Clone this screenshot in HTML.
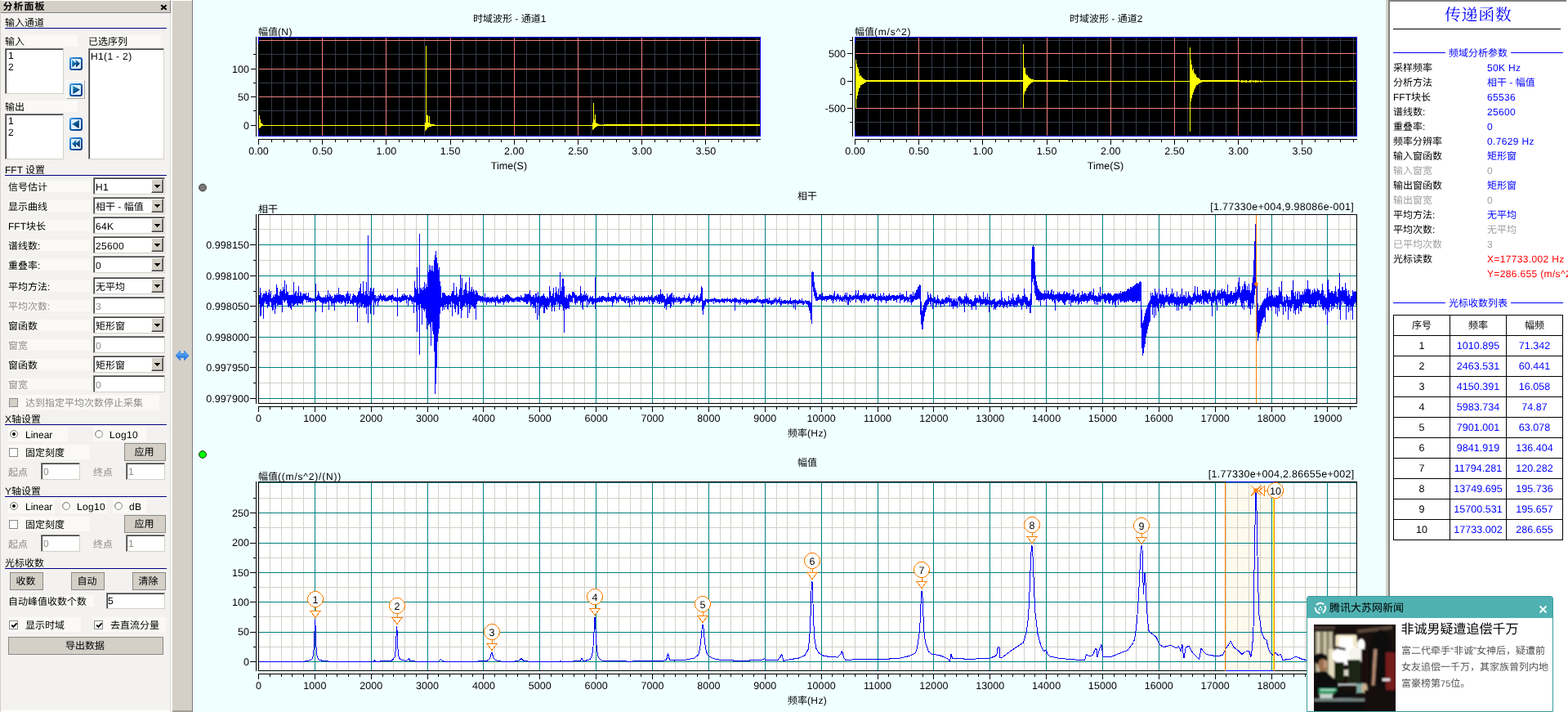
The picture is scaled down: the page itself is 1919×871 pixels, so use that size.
<!DOCTYPE html>
<html lang="zh"><head><meta charset="utf-8"><title>传递函数 - 分析面板</title>
<style>
html,body{margin:0;padding:0}
html{width:1919px;height:871px;overflow:hidden}
body{width:1919px;height:871px;overflow:hidden;position:relative;background:#F0FFFF;font-family:"Liberation Sans","Noto Sans CJK SC",sans-serif;font-size:12px;color:#000;text-rendering:geometricPrecision}
.l{position:absolute;white-space:nowrap;line-height:12px;height:12px;font-size:12px}
.abs{position:absolute}
.ls{letter-spacing:0.35px}
.ls2{letter-spacing:0.8px}
#lp,#rp,#pop{will-change:transform}

#lp{position:absolute;left:0;top:0;width:209px;height:871px;background:#F3F2F0;box-shadow:inset 1px 0 0 #D4D0C8,inset -1px 0 0 #DDDAD3,inset 0 -2px 0 #fff}
#lp div,.abs{position:absolute}
.tbar{background:#D4D0C8;border-right:1px solid #808080;border-bottom:1px solid #808080;border-top:1px solid #fff;box-sizing:border-box}
.uline{background:#000080}
.lbg{background:#FAF9F6}
.sunk{background:#fff;box-sizing:border-box;border:1px solid;border-color:#808080 #D4D0C8 #D4D0C8 #808080;box-shadow:inset 1px 1px 0 #404040}
.drop{background:#D4D0C8;box-sizing:border-box;border:1px solid;border-color:#fff #404040 #404040 #fff;box-shadow:inset -1px -1px 0 #808080}
.drop i{position:absolute;left:3px;top:6px;width:0;height:0;border:3.5px solid transparent;border-top:4px solid #000;border-bottom:0}
.raised{box-sizing:border-box;border:1px solid;border-color:#fff #B0ADA5 #B0ADA5 #fff;background:#F3F2F0}
.btn{background:#D4D0C8;box-sizing:border-box;border:1px solid #8C8A85;text-align:center;white-space:nowrap;padding-right:2px}
.radio{border-radius:50%;background:#fff;box-sizing:border-box;border:1px solid #8A8A8A;box-shadow:inset 0.5px 0.5px 0 #B0B0B0}
.radio i{position:absolute;left:2.3px;top:2.3px;width:4px;height:4px;border-radius:50%;background:#000}
.chk{background:#fff;box-sizing:border-box;border:1px solid #8A8A8A}
.cdis{background:#D4D0C8}
.dis{color:#8F8D88}
.bold{font-weight:bold}

#main{position:absolute;left:0;top:0;width:1919px;height:871px;will-change:transform}
#cv{position:absolute;left:236px;top:0}
#cv text{font-family:"Liberation Sans",sans-serif;font-size:12.5px;fill:#000;text-rendering:geometricPrecision;letter-spacing:0.08px}

#rp{position:absolute;left:1701px;top:0;width:218px;height:871px;background:#fff;overflow:hidden}
#rp div{position:absolute}
.blue{color:#0000FF}
.red{color:#FF0000}
.dis2{color:#A0A0A0}
#tb{position:absolute;left:4px;top:385px;border-collapse:collapse;table-layout:fixed;width:208px}
#tb td{border:1px solid #000;width:68px;height:24px;padding:0;text-align:center;font-size:12.5px;line-height:12px;letter-spacing:0.06px}
#tb tr:first-child td{font-size:12px;letter-spacing:0}

#pop{position:absolute;left:1599px;top:729px;width:302px;height:142px;border-bottom:0;background:#fff;border:1px solid #3C9C9C;border-radius:3px 3px 0 0;box-sizing:border-box;overflow:hidden}
#pop div{position:absolute}
#ptb{left:0;top:0;width:300px;height:26px;background:#4FB1B1}
.pg{color:#555}
</style></head>
<body>
<div id="lp">
<svg width="0" height="0" style="position:absolute"><defs><linearGradient id="ib" x1="0" y1="0" x2="1" y2="1"><stop offset="0" stop-color="#3E9AE6"/><stop offset="0.5" stop-color="#0F5DB0"/><stop offset="1" stop-color="#04347A"/></linearGradient><linearGradient id="ia" x1="0" y1="0" x2="0.7" y2="1"><stop offset="0" stop-color="#3AAEE0"/><stop offset="0.5" stop-color="#0E5E9E"/><stop offset="1" stop-color="#04264F"/></linearGradient></defs></svg>
<div class="tbar" style="left:1px;top:0px;width:208px;height:16px;"></div>
<div class="l bold" style="left:3.6px;top:2.3px;letter-spacing:1px;">分析面板</div>
<svg class="abs" style="left:196px;top:5px" width="9" height="8" viewBox="0 0 9 8"><path d="M1.2 1.2 L7.6 6.8 M7.6 1.2 L1.2 6.8" stroke="#000" stroke-width="2" fill="none"/></svg>
<div class="l" style="left:6px;top:22px;">输入通道</div>
<div class="uline" style="left:6px;top:34px;width:198px;height:1px;"></div>
<div class="lbg" style="left:6px;top:43px;width:89px;height:14px;"></div>
<div class="l" style="left:6px;top:45px;">输入</div>
<div class="lbg" style="left:108px;top:43px;width:89px;height:14px;"></div>
<div class="l" style="left:108px;top:45px;">已选序列</div>
<div class="sunk" style="left:6px;top:59px;width:72px;height:56px;"></div>
<div class="l" style="left:10px;top:62px;">1</div>
<div class="l" style="left:10px;top:76px;">2</div>
<div class="sunk" style="left:108px;top:59px;width:93px;height:136px;"></div>
<div class="l ls" style="left:111px;top:62.5px;">H1(1 - 2)</div>
<div class="lbg" style="left:6px;top:123px;width:89px;height:14px;"></div>
<div class="l" style="left:6px;top:125px;">输出</div>
<div class="sunk" style="left:6px;top:139px;width:72px;height:56px;"></div>
<div class="l" style="left:10px;top:142px;">1</div>
<div class="l" style="left:10px;top:156px;">2</div>
<svg class="abs" style="left:85px;top:70px" width="16" height="16" viewBox="0 0 16 16"><rect x="1" y="1" width="14" height="14" rx="2.2" fill="#DCEEFA" stroke="url(#ib)" stroke-width="2"/><path d="M3 3L8.4 7.8L3.4 12.6ZM7.6 3L13 7.8L8 12.6Z" fill="url(#ia)"/></svg>
<div class="raised" style="left:81px;top:98px;width:23px;height:23px;"></div>
<svg class="abs" style="left:85px;top:102px" width="16" height="16" viewBox="0 0 16 16"><rect x="1" y="1" width="14" height="14" rx="2.2" fill="#DCEEFA" stroke="url(#ib)" stroke-width="2"/><path d="M4 2.8L13 7.8L4.4 12.9Z" fill="url(#ia)"/></svg>
<svg class="abs" style="left:85px;top:144px" width="16" height="16" viewBox="0 0 16 16"><rect x="1" y="1" width="14" height="14" rx="2.2" fill="#DCEEFA" stroke="url(#ib)" stroke-width="2"/><path d="M12 2.8L3 7.8L11.6 12.9Z" fill="url(#ia)"/></svg>
<svg class="abs" style="left:85px;top:168px" width="16" height="16" viewBox="0 0 16 16"><rect x="1" y="1" width="14" height="14" rx="2.2" fill="#DCEEFA" stroke="url(#ib)" stroke-width="2"/><path d="M13 3L7.6 7.8L12.6 12.6ZM8.4 3L3 7.8L8 12.6Z" fill="url(#ia)"/></svg>
<div class="l" style="left:6px;top:202px;">FFT 设置</div>
<div class="uline" style="left:6px;top:214px;width:198px;height:1px;"></div>
<div class="lbg" style="left:10px;top:221px;width:101px;height:14px;"></div>
<div class="l" style="left:10px;top:223px;">信号估计</div>
<div class="sunk" style="left:114px;top:217px;width:88px;height:21px;"></div><div class="drop" style="left:185px;top:219px;width:15px;height:17px;"><svg width="7" height="4" viewBox="0 0 7 4" shape-rendering="crispEdges" style="position:absolute;left:3px;top:6px"><path d="M0 0H7V1H6V2H5V3H4V4H3V3H2V2H1V1H0Z" fill="#000"/></svg></div><div class="l ls" style="left:117px;top:222.5px;">H1</div>
<div class="lbg" style="left:10px;top:245px;width:101px;height:14px;"></div>
<div class="l" style="left:10px;top:247px;">显示曲线</div>
<div class="sunk" style="left:114px;top:241px;width:88px;height:21px;"></div><div class="drop" style="left:185px;top:243px;width:15px;height:17px;"><svg width="7" height="4" viewBox="0 0 7 4" shape-rendering="crispEdges" style="position:absolute;left:3px;top:6px"><path d="M0 0H7V1H6V2H5V3H4V4H3V3H2V2H1V1H0Z" fill="#000"/></svg></div><div class="l" style="left:117px;top:246.5px;">相干 - 幅值</div>
<div class="lbg" style="left:10px;top:269px;width:101px;height:14px;"></div>
<div class="l" style="left:10px;top:271px;">FFT块长</div>
<div class="sunk" style="left:114px;top:265px;width:88px;height:21px;"></div><div class="drop" style="left:185px;top:267px;width:15px;height:17px;"><svg width="7" height="4" viewBox="0 0 7 4" shape-rendering="crispEdges" style="position:absolute;left:3px;top:6px"><path d="M0 0H7V1H6V2H5V3H4V4H3V3H2V2H1V1H0Z" fill="#000"/></svg></div><div class="l ls" style="left:117px;top:270.5px;">64K</div>
<div class="lbg" style="left:10px;top:293px;width:101px;height:14px;"></div>
<div class="l" style="left:10px;top:295px;">谱线数:</div>
<div class="sunk" style="left:114px;top:289px;width:88px;height:21px;"></div><div class="drop" style="left:185px;top:291px;width:15px;height:17px;"><svg width="7" height="4" viewBox="0 0 7 4" shape-rendering="crispEdges" style="position:absolute;left:3px;top:6px"><path d="M0 0H7V1H6V2H5V3H4V4H3V3H2V2H1V1H0Z" fill="#000"/></svg></div><div class="l ls" style="left:117px;top:294.5px;">25600</div>
<div class="lbg" style="left:10px;top:317px;width:101px;height:14px;"></div>
<div class="l" style="left:10px;top:319px;">重叠率:</div>
<div class="sunk" style="left:114px;top:313px;width:88px;height:21px;"></div><div class="drop" style="left:185px;top:315px;width:15px;height:17px;"><svg width="7" height="4" viewBox="0 0 7 4" shape-rendering="crispEdges" style="position:absolute;left:3px;top:6px"><path d="M0 0H7V1H6V2H5V3H4V4H3V3H2V2H1V1H0Z" fill="#000"/></svg></div><div class="l ls" style="left:117px;top:318.5px;">0</div>
<div class="lbg" style="left:10px;top:343px;width:101px;height:14px;"></div>
<div class="l" style="left:10px;top:345px;">平均方法:</div>
<div class="sunk" style="left:114px;top:339px;width:88px;height:21px;"></div><div class="drop" style="left:185px;top:341px;width:15px;height:17px;"><svg width="7" height="4" viewBox="0 0 7 4" shape-rendering="crispEdges" style="position:absolute;left:3px;top:6px"><path d="M0 0H7V1H6V2H5V3H4V4H3V3H2V2H1V1H0Z" fill="#000"/></svg></div><div class="l" style="left:117px;top:344.5px;">无平均</div>
<div class="lbg" style="left:10px;top:367px;width:101px;height:14px;"></div>
<div class="l dis" style="left:10px;top:369px;">平均次数:</div>
<div class="sunk" style="left:114px;top:363px;width:88px;height:21px;"></div><div class="l ls dis" style="left:117px;top:368.5px;">3</div>
<div class="lbg" style="left:10px;top:391px;width:101px;height:14px;"></div>
<div class="l" style="left:10px;top:393px;">窗函数</div>
<div class="sunk" style="left:114px;top:387px;width:88px;height:21px;"></div><div class="drop" style="left:185px;top:389px;width:15px;height:17px;"><svg width="7" height="4" viewBox="0 0 7 4" shape-rendering="crispEdges" style="position:absolute;left:3px;top:6px"><path d="M0 0H7V1H6V2H5V3H4V4H3V3H2V2H1V1H0Z" fill="#000"/></svg></div><div class="l" style="left:117px;top:392.5px;">矩形窗</div>
<div class="lbg" style="left:10px;top:415px;width:101px;height:14px;"></div>
<div class="l dis" style="left:10px;top:417px;">窗宽</div>
<div class="sunk" style="left:114px;top:411px;width:88px;height:21px;"></div><div class="l ls dis" style="left:117px;top:416.5px;">0</div>
<div class="lbg" style="left:10px;top:439px;width:101px;height:14px;"></div>
<div class="l" style="left:10px;top:441px;">窗函数</div>
<div class="sunk" style="left:114px;top:435px;width:88px;height:21px;"></div><div class="drop" style="left:185px;top:437px;width:15px;height:17px;"><svg width="7" height="4" viewBox="0 0 7 4" shape-rendering="crispEdges" style="position:absolute;left:3px;top:6px"><path d="M0 0H7V1H6V2H5V3H4V4H3V3H2V2H1V1H0Z" fill="#000"/></svg></div><div class="l" style="left:117px;top:440.5px;">矩形窗</div>
<div class="lbg" style="left:10px;top:463px;width:101px;height:14px;"></div>
<div class="l dis" style="left:10px;top:465px;">窗宽</div>
<div class="sunk" style="left:114px;top:459px;width:88px;height:21px;"></div><div class="l ls dis" style="left:117px;top:464.5px;">0</div>
<div class="lbg" style="left:10px;top:483px;width:185px;height:19px;"></div>
<div class="chk cdis" style="left:11px;top:487px;width:11px;height:11px;"></div>
<div class="l dis" style="left:31px;top:487px;">达到指定平均次数停止采集</div>
<div class="l" style="left:6px;top:507px;">X轴设置</div>
<div class="uline" style="left:6px;top:519px;width:198px;height:1px;"></div>
<div class="lbg" style="left:10px;top:522px;width:73px;height:18px;"></div>
<div class="lbg" style="left:114px;top:522px;width:65px;height:18px;"></div>
<div class="radio on" style="left:11.8px;top:525.8px;width:10.6px;height:10.6px;"><i></i></div>
<div class="l" style="left:31px;top:526px;">Linear</div>
<div class="radio" style="left:115.8px;top:525.8px;width:10.6px;height:10.6px;"></div>
<div class="l ls" style="left:134px;top:526px;">Log10</div>
<div class="lbg" style="left:10px;top:544px;width:100px;height:18px;"></div>
<div class="chk" style="left:11px;top:548px;width:11px;height:11px;"></div>
<div class="l" style="left:31px;top:548px;">固定刻度</div>
<div class="btn" style="left:152px;top:542px;width:51px;height:22px;line-height:20px">应用</div>
<div class="l dis" style="left:10px;top:572px;">起点</div>
<div class="sunk" style="left:50px;top:566px;width:48px;height:21px;"></div><div class="l dis" style="left:53px;top:571px;">0</div>
<div class="l dis" style="left:114px;top:572px;">终点</div>
<div class="sunk" style="left:154px;top:566px;width:48px;height:21px;"></div><div class="l dis" style="left:157px;top:571px;">1</div>
<div class="l" style="left:6px;top:595px;">Y轴设置</div>
<div class="uline" style="left:6px;top:607px;width:198px;height:1px;"></div>
<div class="lbg" style="left:10px;top:610px;width:57px;height:18px;"></div>
<div class="lbg" style="left:74px;top:610px;width:57px;height:18px;"></div>
<div class="lbg" style="left:138px;top:610px;width:41px;height:18px;"></div>
<div class="radio on" style="left:11.8px;top:613.8px;width:10.6px;height:10.6px;"><i></i></div>
<div class="l" style="left:31px;top:614px;">Linear</div>
<div class="radio" style="left:75.8px;top:613.8px;width:10.6px;height:10.6px;"></div>
<div class="l ls" style="left:94px;top:614px;">Log10</div>
<div class="radio" style="left:139.8px;top:613.8px;width:10.6px;height:10.6px;"></div>
<div class="l ls" style="left:158px;top:614px;">dB</div>
<div class="lbg" style="left:10px;top:632px;width:100px;height:18px;"></div>
<div class="chk" style="left:11px;top:636px;width:11px;height:11px;"></div>
<div class="l" style="left:31px;top:636px;">固定刻度</div>
<div class="btn" style="left:152px;top:630px;width:51px;height:22px;line-height:20px">应用</div>
<div class="l dis" style="left:10px;top:660px;">起点</div>
<div class="sunk" style="left:50px;top:654px;width:48px;height:21px;"></div><div class="l dis" style="left:53px;top:659px;">0</div>
<div class="l dis" style="left:114px;top:660px;">终点</div>
<div class="sunk" style="left:154px;top:654px;width:48px;height:21px;"></div><div class="l dis" style="left:157px;top:659px;">1</div>
<div class="l" style="left:6px;top:683px;">光标收数</div>
<div class="uline" style="left:6px;top:695px;width:198px;height:1px;"></div>
<div class="btn" style="left:12px;top:700px;width:41px;height:22px;line-height:20px">收数</div>
<div class="btn" style="left:87px;top:700px;width:41px;height:22px;line-height:20px">自动</div>
<div class="btn" style="left:162px;top:700px;width:41px;height:22px;line-height:20px">清除</div>
<div class="lbg" style="left:10px;top:728px;width:105px;height:14px;"></div>
<div class="l" style="left:10px;top:730px;">自动峰值收数个数</div>
<div class="sunk" style="left:130px;top:725px;width:72px;height:20px;"></div>
<div class="l" style="left:132px;top:729px;">5</div>
<div class="lbg" style="left:10px;top:755px;width:89px;height:18px;"></div>
<div class="lbg" style="left:114px;top:755px;width:89px;height:18px;"></div>
<div class="chk" style="left:11px;top:759px;width:11px;height:11px;"><svg width="11" height="11" viewBox="0 0 11 11" style="position:absolute;left:0;top:0"><path d="M2.2 4.6 L4.4 6.9 L8.6 2.4" fill="none" stroke="#000" stroke-width="1.9"/></svg></div>
<div class="l" style="left:31px;top:759px;">显示时域</div>
<div class="chk" style="left:115px;top:759px;width:11px;height:11px;"><svg width="11" height="11" viewBox="0 0 11 11" style="position:absolute;left:0;top:0"><path d="M2.2 4.6 L4.4 6.9 L8.6 2.4" fill="none" stroke="#000" stroke-width="1.9"/></svg></div>
<div class="l" style="left:135px;top:759px;">去直流分量</div>
<div class="btn" style="left:10px;top:779px;width:190px;height:22px;line-height:20px">导出数据</div>
</div>
<div class="abs" style="left:209px;top:0px;width:2px;height:871px;background:#fff"></div>
<div class="abs" style="left:211px;top:0px;width:24px;height:871px;background:#D4D0C8;border-top:1px solid #fff;border-bottom:2px solid #A09E98;box-sizing:border-box"></div>
<div class="abs" style="left:235px;top:0px;width:1px;height:871px;background:#808080"></div>
<svg class="abs" style="left:214px;top:427px" width="18" height="16" viewBox="0 0 18 16"><defs><linearGradient id="dag" x1="0" y1="0" x2="0" y2="1"><stop offset="0" stop-color="#6EC0FF"/><stop offset="1" stop-color="#1560D8"/></linearGradient></defs><path d="M1 8 L6.5 2 L6.5 5.6 L11.5 5.6 L11.5 2 L17 8 L11.5 14 L11.5 10.4 L6.5 10.4 L6.5 14 Z" fill="url(#dag)" stroke="#2E7EE6" stroke-width="0.8"/></svg>
<div id="main">
<svg id="cv" width="1460" height="871" viewBox="236 0 1460 871" shape-rendering="crispEdges" fill="none" font-size="12">
<rect x="316" y="45" width="615" height="122" fill="#000"/><path d="M332.5 46V166M347.5 46V166M363.5 46V166M379.5 46V166M410.5 46V166M425.5 46V166M441.5 46V166M457.5 46V166M488.5 46V166M504.5 46V166M519.5 46V166M535.5 46V166M566.5 46V166M582.5 46V166M598.5 46V166M613.5 46V166M644.5 46V166M660.5 46V166M676.5 46V166M691.5 46V166M723.5 46V166M738.5 46V166M754.5 46V166M770.5 46V166M801.5 46V166M816.5 46V166M832.5 46V166M848.5 46V166M879.5 46V166M895.5 46V166M910.5 46V166M926.5 46V166" stroke="#343A46"/><path d="M317 66.5H930M317 101.5H930M317 135.5H930" stroke="#343A46"/><path d="M394.5 46V166M472.5 46V166M551.5 46V166M629.5 46V166M707.5 46V166M785.5 46V166M863.5 46V166" stroke="#F08080"/><path d="M317 49.5H930M317 84.5H930M317 118.5H930M317 153.5H930" stroke="#F08080"/><path d="M317 153.5H739" stroke="#FFFF00" stroke-width="1"/><path d="M317.5 141V157M318.5 146V156M319.5 150V155M320.5 151V154M321.5 152V154M520.5 150V160M521.5 56V159M522.5 141V158M523.5 141V156M524.5 150V156M525.5 142V155M526.5 151V155M527.5 152V155M528.5 152V154M529.5 152V154M530.5 152V154M531.5 152V154M725.5 150V159M726.5 126V158M727.5 146V157M728.5 140V156M729.5 150V155M730.5 151V155M731.5 151V154M732.5 152V154M733.5 152V154M735.5 152V154M737.5 152V154" stroke="#FFFF00" stroke-width="1"/><path d="M739 153H930" stroke="#FFFF00" stroke-width="2"/><path d="M316 45.5H930.5V166.5H316M316.5 45V53M316.5 159V167" fill="none" stroke="#0000FF"/><path d="M313.5 45V167" stroke="#000" stroke-width="1"/><path d="M307 84.5H313M307 118.5H313M307 153.5H313" stroke="#000"/><path d="M310 66.5H313M310 101.5H313M310 135.5H313" stroke="#000"/><text x="305" y="88.5" text-anchor="end" fill="#000">100</text><text x="305" y="122.5" text-anchor="end" fill="#000">50</text><text x="305" y="157.5" text-anchor="end" fill="#000">0</text><path d="M316 170.5H931" stroke="#000" stroke-width="1"/><path d="M316.5 170V177M394.5 170V177M472.5 170V177M551.5 170V177M629.5 170V177M707.5 170V177M785.5 170V177M863.5 170V177" stroke="#000"/><path d="M332.5 170V174M347.5 170V174M363.5 170V174M379.5 170V174M410.5 170V174M425.5 170V174M441.5 170V174M457.5 170V174M488.5 170V174M504.5 170V174M519.5 170V174M535.5 170V174M566.5 170V174M582.5 170V174M598.5 170V174M613.5 170V174M644.5 170V174M660.5 170V174M676.5 170V174M691.5 170V174M723.5 170V174M738.5 170V174M754.5 170V174M770.5 170V174M801.5 170V174M816.5 170V174M832.5 170V174M848.5 170V174M879.5 170V174M895.5 170V174M910.5 170V174M926.5 170V174" stroke="#000"/><text x="316.5" y="189" text-anchor="middle" fill="#000">0.00</text><text x="394.7" y="189" text-anchor="middle" fill="#000">0.50</text><text x="472.9" y="189" text-anchor="middle" fill="#000">1.00</text><text x="551.1" y="189" text-anchor="middle" fill="#000">1.50</text><text x="629.3" y="189" text-anchor="middle" fill="#000">2.00</text><text x="707.5" y="189" text-anchor="middle" fill="#000">2.50</text><text x="785.7" y="189" text-anchor="middle" fill="#000">3.00</text><text x="863.9" y="189" text-anchor="middle" fill="#000">3.50</text><text x="623" y="207" text-anchor="middle" fill="#000">Time(S)</text>
<rect x="1046" y="45" width="615" height="122" fill="#000"/><path d="M1062.5 46V166M1077.5 46V166M1093.5 46V166M1109.5 46V166M1140.5 46V166M1155.5 46V166M1171.5 46V166M1187.5 46V166M1218.5 46V166M1234.5 46V166M1249.5 46V166M1265.5 46V166M1296.5 46V166M1312.5 46V166M1328.5 46V166M1343.5 46V166M1374.5 46V166M1390.5 46V166M1406.5 46V166M1421.5 46V166M1453.5 46V166M1468.5 46V166M1484.5 46V166M1500.5 46V166M1531.5 46V166M1546.5 46V166M1562.5 46V166M1578.5 46V166M1609.5 46V166M1625.5 46V166M1640.5 46V166M1656.5 46V166" stroke="#343A46"/><path d="M1047 49.5H1660M1047 82.5H1660M1047 115.5H1660M1047 149.5H1660" stroke="#343A46"/><path d="M1124.5 46V166M1202.5 46V166M1281.5 46V166M1359.5 46V166M1437.5 46V166M1515.5 46V166M1593.5 46V166" stroke="#F08080"/><path d="M1047 65.5H1660M1047 99.5H1660M1047 132.5H1660" stroke="#F08080"/><path d="M1047.5 73.0V132.0M1048.0 78.4V120.5M1048.5 79.4V119.6M1049.0 81.9V117.3M1049.5 87.7V112.7M1050.0 84.4V112.2M1050.5 86.1V108.4M1051.0 89.2V107.9M1051.5 90.0V108.1M1052.0 92.7V106.0M1052.5 92.6V107.2M1053.0 92.1V104.4M1053.5 92.8V103.8M1054.0 93.8V103.2M1054.5 95.4V104.1M1055.0 95.5V102.5M1055.5 94.8V103.1M1056.0 96.1V102.7M1056.5 96.1V102.0M1057.0 96.8V102.0M1057.5 96.6V101.7M1058.0 96.7V100.8M1058.5 97.3V100.5M1059.0 97.6V100.3M1059.5 97.7V100.5M1060.0 98.0V100.4M1060.5 97.9V100.1M1061.0 97.6V100.2M1252.5 54.0V132.0M1253.0 84.0V115.1M1253.5 83.3V111.0M1254.0 83.4V109.6M1254.5 86.1V112.4M1255.0 90.5V110.8M1255.5 90.0V108.8M1256.0 92.1V106.0M1256.5 92.3V108.1M1257.0 92.9V106.6M1257.5 91.7V106.3M1258.0 93.8V104.2M1258.5 93.9V104.6M1259.0 95.2V103.9M1259.5 94.5V103.6M1260.0 96.0V103.3M1260.5 96.3V102.1M1261.0 95.9V102.4M1261.5 96.5V102.1M1262.0 96.6V101.2M1262.5 97.0V100.9M1263.0 97.4V100.6M1263.5 97.1V101.1M1264.0 97.7V100.3M1264.5 97.3V100.4M1265.0 97.8V100.1M1265.5 97.8V100.4M1266.0 97.8V100.2M1266.5 98.0V100.4M1267.0 98.0V100.2M1456.5 58.0V160.5M1457.0 72.5V118.9M1457.5 76.0V123.8M1458.0 79.1V120.1M1458.5 84.7V115.5M1459.0 85.9V116.4M1459.5 86.4V112.5M1460.0 84.2V113.1M1460.5 85.8V109.9M1461.0 89.1V109.9M1461.5 90.1V107.2M1462.0 91.3V105.9M1462.5 92.1V107.6M1463.0 91.3V105.8M1463.5 93.2V104.5M1464.0 94.6V103.8M1464.5 93.7V104.4M1465.0 95.0V103.7M1465.5 94.8V103.1M1466.0 95.3V102.8M1466.5 96.1V102.3M1467.0 96.5V101.8M1467.5 96.2V101.7M1468.0 96.9V101.6M1468.5 96.9V101.1M1469.0 97.5V100.8M1469.5 97.5V100.7M1470.0 97.6V100.6M1470.5 97.6V100.5M1471.0 97.9V100.3" stroke="#FFFF00" stroke-width="1" fill="none"/><path d="M1047 99H1307M1456 99H1517" stroke="#FFFF00" stroke-width="2.6"/><path d="M1307 99.5H1456M1517 99.5H1660" stroke="#FFFF00" stroke-width="1"/><path d="M1519.0 98.2V100.7M1520.7 98.4V100.7M1522.4 98.1V100.6M1524.1 98.0V100.8M1525.8 98.3V100.5M1527.5 98.5V100.7M1529.2 98.0V100.5M1530.9 98.2V100.6M1532.6 98.2V100.3M1534.3 98.1V100.5M1536.0 98.2V100.5M1537.7 98.2V100.7M1539.4 98.2V100.6M1541.1 98.6V100.3M1542.8 98.3V100.6M1544.5 98.5V100.6M1652.0 98.2V100.2M1654.0 98.3V100.3M1656.0 98.6V100.3M1658.0 98.4V100.3" stroke="#FFFF00" stroke-width="1"/><path d="M1046 45.5H1660.5V166.5H1046M1046.5 45V53M1046.5 159V167" fill="none" stroke="#0000FF"/><path d="M1043.5 45V167" stroke="#000" stroke-width="1"/><path d="M1037 65.5H1043M1037 99.5H1043M1037 132.5H1043" stroke="#000"/><path d="M1040 49.5H1043M1040 82.5H1043M1040 115.5H1043M1040 149.5H1043" stroke="#000"/><text x="1035" y="69.5" text-anchor="end" fill="#000">500</text><text x="1035" y="103.5" text-anchor="end" fill="#000">0</text><text x="1035" y="136.5" text-anchor="end" fill="#000">-500</text><path d="M1046 170.5H1661" stroke="#000" stroke-width="1"/><path d="M1046.5 170V177M1124.5 170V177M1202.5 170V177M1281.5 170V177M1359.5 170V177M1437.5 170V177M1515.5 170V177M1593.5 170V177" stroke="#000"/><path d="M1062.5 170V174M1077.5 170V174M1093.5 170V174M1109.5 170V174M1140.5 170V174M1155.5 170V174M1171.5 170V174M1187.5 170V174M1218.5 170V174M1234.5 170V174M1249.5 170V174M1265.5 170V174M1296.5 170V174M1312.5 170V174M1328.5 170V174M1343.5 170V174M1374.5 170V174M1390.5 170V174M1406.5 170V174M1421.5 170V174M1453.5 170V174M1468.5 170V174M1484.5 170V174M1500.5 170V174M1531.5 170V174M1546.5 170V174M1562.5 170V174M1578.5 170V174M1609.5 170V174M1625.5 170V174M1640.5 170V174M1656.5 170V174" stroke="#000"/><text x="1046.5" y="189" text-anchor="middle" fill="#000">0.00</text><text x="1124.7" y="189" text-anchor="middle" fill="#000">0.50</text><text x="1202.9" y="189" text-anchor="middle" fill="#000">1.00</text><text x="1281.1" y="189" text-anchor="middle" fill="#000">1.50</text><text x="1359.3" y="189" text-anchor="middle" fill="#000">2.00</text><text x="1437.5" y="189" text-anchor="middle" fill="#000">2.50</text><text x="1515.7" y="189" text-anchor="middle" fill="#000">3.00</text><text x="1593.9" y="189" text-anchor="middle" fill="#000">3.50</text><text x="1353" y="207" text-anchor="middle" fill="#000">Time(S)</text>
<rect x="316" y="262" width="1345" height="232" fill="#fff"/><path d="M330.5 263V493M344.5 263V493M357.5 263V493M371.5 263V493M399.5 263V493M412.5 263V493M426.5 263V493M440.5 263V493M468.5 263V493M481.5 263V493M495.5 263V493M509.5 263V493M536.5 263V493M550.5 263V493M564.5 263V493M578.5 263V493M605.5 263V493M619.5 263V493M633.5 263V493M647.5 263V493M674.5 263V493M688.5 263V493M702.5 263V493M715.5 263V493M743.5 263V493M757.5 263V493M771.5 263V493M784.5 263V493M812.5 263V493M826.5 263V493M839.5 263V493M853.5 263V493M881.5 263V493M894.5 263V493M908.5 263V493M922.5 263V493M950.5 263V493M963.5 263V493M977.5 263V493M991.5 263V493M1018.5 263V493M1032.5 263V493M1046.5 263V493M1060.5 263V493M1087.5 263V493M1101.5 263V493M1115.5 263V493M1129.5 263V493M1156.5 263V493M1170.5 263V493M1184.5 263V493M1197.5 263V493M1225.5 263V493M1239.5 263V493M1253.5 263V493M1266.5 263V493M1294.5 263V493M1308.5 263V493M1321.5 263V493M1335.5 263V493M1363.5 263V493M1377.5 263V493M1390.5 263V493M1404.5 263V493M1432.5 263V493M1445.5 263V493M1459.5 263V493M1473.5 263V493M1500.5 263V493M1514.5 263V493M1528.5 263V493M1542.5 263V493M1569.5 263V493M1583.5 263V493M1597.5 263V493M1611.5 263V493M1638.5 263V493M1652.5 263V493" stroke="#D4D0C8"/><path d="M317 280.5H1660M317 318.5H1660M317 356.5H1660M317 393.5H1660M317 430.5H1660M317 468.5H1660" stroke="#D4D0C8"/><path d="M385.5 263V493M454.5 263V493M523.5 263V493M591.5 263V493M660.5 263V493M729.5 263V493M798.5 263V493M867.5 263V493M936.5 263V493M1005.5 263V493M1074.5 263V493M1142.5 263V493M1211.5 263V493M1280.5 263V493M1349.5 263V493M1418.5 263V493M1487.5 263V493M1556.5 263V493M1624.5 263V493" stroke="#008080"/><path d="M317 299.5H1660M317 337.5H1660M317 374.5H1660M317 412.5H1660M317 449.5H1660M317 487.5H1660" stroke="#008080"/><path d="M317 360.9V372.4M318 352V387M319 357.6V385.5M320 364.2V376.3M321 360.9V374.4M322 358.7V389.6M323 359.4V371.2M324 358.9V369.4M325 355.9V372.4M326 358V371.8M327 361V377.2M328 358.2V374.6M329 353.8V374.8M330 359.8V369.4M331 355.5V369.8M332 364.7V375.7M333 363.9V380.1M334 360.7V378.7M335 363.4V373M336 359.8V383.6M337 360.1V378M338 348.2V370.9M339 351.5V373.9M340 361.3V372.8M341 361.8V372.5M342 357.2V373.3M343 354.2V372.7M344 356.2V373M345 356V381.6M346 351.3V367M347 354.2V369.3M348 343.2V369.7M349 358.7V368.1M350 348V367.4M351 357.4V371.1M352 357.1V374.6M353 360.6V376.3M354 361.3V373.9M355 361V377.2M356 360.5V378.7M357 360V371.3M358 361.2V374.6M359 345.1V374.8M360 359.1V373.4M361 356.5V371.7M362 355.9V370.9M363 361.9V372.8M364 357.6V373.8M365 350.1V370.7M366 361.6V371.1M367 357.1V372M368 357.7V371.3M369 362V371.4M370 359.7V373.2M371 359.4V368.2M372 359.2V365.9M373 360V367.2M374 357.7V367.3M375 362.4V370.1M376 362V367.4M377 357.6V369.7M378 364V368.6M379 364.3V369.8M380 363.5V370.2M381 364.8V367.8M382 365.4V369.7M383 364.5V368.4M384 365.2V368.5M385 365.8V368.7M386 347V381M387 363.2V368.4M388 361.1V367.6M389 356.4V366.6M390 359V368M391 361.5V369.1M392 362.8V369.8M393 364.3V370.3M394 363.8V381.8M395 363.8V371.1M396 363.3V371.8M397 363.6V370.1M398 360.6V371.5M399 363.6V370.6M400 361.1V369.2M401 354.7V369.8M402 362.7V378.6M403 359.1V368.2M404 361.4V368.5M405 362.6V373.5M406 362V371.2M407 364.8V373.6M408 363.5V370.6M409 360.3V379.9M410 361.4V370.1M411 360.6V371M412 359.2V368.6M413 361.3V369.2M414 352V370.1M415 359.7V370.9M416 359.6V369M417 361.1V371.7M418 361V369.6M419 361.4V369.8M420 361.4V367.8M421 362.2V369.7M422 363.5V375.4M423 359.7V370.9M424 358.8V367.7M425 356.1V371.8M426 358.5V371.3M427 362.2V368.3M428 359.4V371.5M429 366.5V372.2M430 364.6V370.7M431 362.2V372M432 358.9V374M433 361.4V370.3M434 360.7V371.1M435 362.1V370M436 362.7V374.3M437 361.1V393.7M438 357.4V372.2M439 356.3V376.9M440 351.7V370.4M441 346.6V375.3M442 359.1V375.5M443 359.3V373.8M444 344.2V372M445 356.9V376.8M446 360.8V376.3M447 356.2V376.3M448 345V384M449 359.7V375.4M450 288V395M451 362.4V375.2M452 356.2V372.9M453 352.2V383.7M454 353.4V373.8M455 356.8V369.4M456 353.7V367.4M457 351.6V384.7M458 361.4V369.8M459 361.2V372.7M460 364.5V369.2M461 361.7V368.2M462 364.5V375.4M463 361.1V369.9M464 362.2V367.7M465 359.4V366.4M466 361.4V367.2M467 362.2V369.1M468 361.8V368.2M469 360.2V367.2M470 362V368.1M471 360.9V368.6M472 363.6V367.9M473 364.1V368.5M474 363.4V368.4M475 362.4V367.8M476 361.2V367.3M477 362.1V366.9M478 360.7V367.1M479 360.7V369.7M480 360.2V366.2M481 362V367.5M482 363.8V368.3M483 363.3V367.6M484 362.5V368.7M485 363.9V369.4M486 353V387M487 363.6V368.2M488 363.1V367.8M489 362.6V369.8M490 363.5V370.2M491 361.7V368.5M492 359.8V368.1M493 361.7V367.8M494 358.5V368.1M495 360.5V366.8M496 361.3V367.1M497 362.2V371.1M498 360.7V365.7M499 364.4V374.1M500 362.7V367.5M501 360.1V368.1M502 360.8V367.3M503 362.1V368.7M504 363.1V372.4M505 363.7V369.4M506 361.7V383.2M507 343.8V369.8M508 352.3V369.5M509 353.5V381M510 327V406M511 352.3V372.6M512 358.7V378.9M513 286V434M514 352.2V372.1M515 354.1V377.3M516 351.7V396.6M517 355.2V376.9M518 350.8V379.3M519 344.9V380.8M520 353V378.1M521 347.1V388.9M522 351.4V403.1M523 331V393.4M524 332.7V397.5M525 324.4V396.4M526 330V400M527 325V423.1M528 331.4V394.3M529 325V405M530 332V409.1M531 318V430M532 312V482M533 307V470M534 315V450M535 322V417.6M536 330V407.8M537 326.5V402.1M538 343.5V383.6M539 350V376.3M540 363.7V374.9M541 357.8V379.8M542 358.2V376.4M543 357.7V378.9M544 358.5V372.8M545 361.4V376.3M546 362.3V371.9M547 361.6V377.6M548 361V379M549 360.6V372.7M550 362.2V372M551 361.5V376.2M552 358.6V369.4M553 355.8V387.2M554 356V371.4M555 345.7V372.2M556 361V378.2M557 360.6V382.3M558 350.5V372.7M559 359.2V373.5M560 362.5V385.2M561 361.4V384.4M562 353.5V368.6M563 336V378M564 352.3V389.3M565 340V380M566 361.3V375.8M567 354.5V373.5M568 354V373.9M569 347.1V370.5M570 345.4V375.6M571 354.8V372.9M572 359V389.3M573 356.1V371.5M574 338.9V382.8M575 357.3V378M576 353.5V373.3M577 350.7V374.5M578 356.5V375M579 354.1V375.8M580 356.3V378M581 359.6V377.2M582 355V391M583 356.2V372.4M584 357.5V369.4M585 361V367.9M586 360.7V368.2M587 362.4V367.8M588 362.2V369.7M589 363.2V368.2M590 361.7V369.8M591 363V369.2M592 363.8V368.4M593 359V369.6M594 363.7V369.3M595 363.8V372.5M596 362.6V369.5M597 363.7V370.1M598 362.9V368.8M599 365.2V370.9M600 363.7V369.4M601 363.8V370.5M602 363.4V369.2M603 362.9V368.8M604 365V369.9M605 362.9V370.4M606 363.9V374.2M607 363V368.3M608 361.4V369.7M609 362.7V369.6M610 365.6V371.5M611 365.7V369.5M612 364.2V370.9M613 365.1V369.2M614 364.8V369.3M615 362.3V369.7M616 364.3V372.5M617 362.6V369.9M618 361.4V369.2M619 361.4V368.1M620 359.7V369.5M621 360.4V368.7M622 361.2V371.2M623 361.7V369M624 363.4V368.4M625 364V368M626 363.7V369.9M627 364.5V369.1M628 364.5V370M629 365.3V369M630 363.6V369M631 364V367.4M632 363V368.8M633 363.4V369.4M634 363.2V369.2M635 362.5V368.9M636 363.5V369.9M637 360.7V366.9M638 363.2V368.2M639 363.5V367.8M640 363.6V368.7M641 362.6V370.2M642 358.9V369.4M643 360V369.6M644 359.6V372.2M645 360V372.1M646 358.6V370.1M647 359.5V367.5M648 355V370.2M649 361.4V375.1M650 362.8V372.6M651 363.3V371.7M652 361V376.5M653 360.5V374.2M654 363.5V377.3M655 358.6V382.6M656 358.7V369.9M657 363V391M658 356.6V371.2M659 362.2V385.6M660 364.2V379M661 362.9V377.4M662 362V374.2M663 361.5V375.8M664 361.2V373M665 358.5V382.9M666 362V382.5M667 363.9V375.6M668 364.9V377.6M669 362.7V379.1M670 362.5V373.7M671 364.7V375.6M672 350.2V373.4M673 356V370M674 361.5V373.8M675 361.5V380.5M676 359.1V376.2M677 352V372.8M678 364.4V381.4M679 357.7V373.1M680 351.3V372.7M681 357V368.7M682 360V372.5M683 353.2V371M684 360.9V379.1M685 333V375M686 355.8V371.5M687 350.8V373.3M688 341V374.2M689 341V380M690 350V407M691 362.6V376.9M692 363.5V378.7M693 360.8V377.6M694 364.7V376.5M695 361.3V376.6M696 359V378.1M697 360.1V369.2M698 361.4V370.4M699 362.2V369.3M700 357.1V370.1M701 357.3V364M702 357.4V365.1M703 358.9V370.9M704 360.6V373.4M705 361.4V370M706 363.4V370.5M707 361.5V368.2M708 361.8V367.9M709 360.6V368.3M710 350V373.1M711 358.5V370.3M712 361.9V376.9M713 359.8V379.1M714 360.6V369.1M715 356V368.1M716 360.8V369.4M717 359.4V366.5M718 361.9V375.5M719 361.3V369.3M720 366.2V372.8M721 364.1V370.6M722 361.6V369.1M723 363.9V369.3M724 362.6V371.8M725 362.2V373.4M726 364.9V371.9M727 364.7V369.8M728 339V378M729 363.5V370.9M730 364.9V369.9M731 364.3V369.7M732 363.9V369.1M733 362.4V369.6M734 363.8V369.3M735 363.4V368.7M736 361.6V369.5M737 362.2V368.5M738 361.7V367M739 362.6V367.6M740 362.9V368.2M741 364.1V368.9M742 363.6V369.5M743 363.3V367.5M744 357.8V368.5M745 363V368.6M746 364V367.9M747 364.3V369.2M748 361.6V369.3M749 363V374.7M750 362.1V370.8M751 362.4V369.2M752 361.6V365.7M753 358.2V367.4M754 363.3V371.4M755 364.2V368.3M756 362.1V370M757 363.3V369.4M758 359.5V365.9M759 360.8V366.3M760 363V367.8M761 364V367.6M762 362.6V367.7M763 364V368.7M764 361.8V370.3M765 365V371.4M766 362.5V367.7M767 362V367.1M768 364.6V371.3M769 361.7V370.2M770 364.6V376M771 363.9V369.4M772 365.8V369.6M773 365.7V372.8M774 361.5V368.6M775 364.6V367.9M776 360.4V372.1M777 362V367.2M778 363.2V368.2M779 364.3V368.9M780 363V367.2M781 364.3V368.9M782 361.6V373.4M783 364.2V368.7M784 363.1V368.5M785 361.8V368.6M786 363.8V368.4M787 363.7V369.6M788 361.6V368.7M789 362.7V368M790 363.7V368.2M791 363.1V369.3M792 364.2V369.2M793 361.1V367.1M794 362.7V371.9M795 363.4V367.5M796 362.7V367M797 361.1V369.1M798 364.3V369.8M799 363.8V371.5M800 363.7V368.7M801 362.4V369.5M802 362.3V367.1M803 360.5V367.6M804 363V371.2M805 359.5V369.3M806 360.8V372.4M807 360.2V372M808 354V369.3M809 359.8V371M810 359.4V370.3M811 360.4V369.8M812 361.6V369.5M813 361.8V377M814 365.9V373.7M815 365V379.3M816 359.1V372.8M817 362.5V372M818 363.3V371.6M819 361V372M820 359.8V377.1M821 359V374.7M822 358.2V368.9M823 364.2V370.8M824 361.3V373.4M825 364.3V369.8M826 365V368.6M827 362.9V370M828 363.3V367.1M829 365.1V369.8M830 362.9V368.8M831 363.2V368.5M832 365V371.5M833 364.3V371M834 364.9V370.4M835 364V368M836 363.5V368.4M837 361.2V367.3M838 363.8V368.1M839 364.8V370M840 365.4V369.6M841 364.1V368.9M842 362.2V368.8M843 358.8V369M844 363.8V368.4M845 365.3V371.2M846 366V373.5M847 364.8V371.4M848 363.4V371.5M849 361.4V368.6M850 365V369.2M851 363.5V367.3M852 362.3V370.2M853 360.5V367.9M854 363V367.8M855 364.8V370.6M856 362.6V370.4M857 359.4V369.1M858 349.8V368.3M859 352V380.3M860 366.8V385.2M861 367.7V378M862 366.5V374.1M863 365.4V372.7M864 365.7V369.3M865 365.8V370.1M866 365.6V370.7M867 366.6V369.9M868 365.7V368.7M869 365.6V368.9M870 366V368.6M871 364.7V370.1M872 365.9V368.1M873 364.6V371.5M874 364.2V367.9M875 364.7V369.5M876 365.6V370.2M877 366.2V370.2M878 365.7V369.1M879 365.9V369.5M880 366V370.7M881 366.6V370M882 365.9V368.9M883 365.4V368.5M884 365.2V369.9M885 366.1V369.8M886 364.5V370.9M887 365.9V369.3M888 365.3V368.2M889 366.3V369.5M890 363.6V369.2M891 365.6V368M892 366V369.1M893 364.9V369.6M894 365.9V370.1M895 366.7V371.3M896 364.9V369M897 365.6V369M898 365.2V370M899 364V379.5M900 365V370M901 365.3V370.1M902 365.7V369M903 366.7V370.6M904 365.7V370M905 366.9V373.2M906 364V370.7M907 366.1V369M908 365.6V369.6M909 365.4V369M910 366.4V371.5M911 365.5V369.7M912 367.2V370.6M913 365.4V372.5M914 367V372.1M915 366.8V371.2M916 365.9V369.5M917 366.6V369.9M918 367.4V371.2M919 365.8V370.4M920 365.8V369.7M921 365.8V369.6M922 365.6V370.5M923 365V371M924 365.9V370.8M925 364.1V370.1M926 365.9V369.4M927 361.8V368.6M928 366.9V370.2M929 366.1V370.4M930 365.9V370.2M931 366.7V371.5M932 367.1V371M933 365.7V376.4M934 366V370.8M935 365.5V370.7M936 365.4V371.2M937 365.1V370M938 366.1V370.2M939 365V372.3M940 367V371.7M941 364V370.6M942 367.7V371M943 366.9V373.2M944 368.2V373M945 367.2V371.9M946 367.3V371.9M947 365.1V369.8M948 366.1V371.3M949 364.4V369.2M950 365.8V372.5M951 366.7V370.8M952 365.8V369.7M953 364.9V370.3M954 363.4V371.6M955 367.8V374.5M956 366.1V373.3M957 367.9V370.9M958 367.8V371.5M959 367V371.4M960 367.4V371.5M961 367.1V371.5M962 368V371.2M963 367.1V370.9M964 367.6V372.6M965 367.9V371.6M966 367.1V371.3M967 364.2V372.3M968 367.9V371.8M969 367.5V372.5M970 366.8V370.8M971 366.9V376.5M972 366.9V371.2M973 365.7V378.7M974 367.2V370.5M975 367.5V373.2M976 367.5V371.8M977 367.1V372.3M978 366.4V370.9M979 366.5V370.8M980 367.8V371M981 364.7V370.5M982 367.6V372.7M983 367.7V372.9M984 368.5V371.5M985 366.5V370.1M986 367.5V372.4M987 368.4V372.3M988 368.3V373M989 367.6V376.4M990 367.6V380M991 369.6V383.4M992 369.7V391.1M993 333.1V395.6M994 332.4V350.7M995 333.4V356.8M996 344.9V362M997 351.5V365.2M998 355.1V368.4M999 358.3V368.1M1000 363.1V367.7M1001 362.9V366.9M1002 360.3V366.8M1003 360.4V366.2M1004 359.8V366.6M1005 362.3V366.9M1006 357.9V368.4M1007 362V366.9M1008 362.8V367.2M1009 362.2V367.6M1010 362V365.7M1011 361.6V369.2M1012 361.5V367.3M1013 362.3V367M1014 362.1V365.9M1015 359.8V366M1016 360.7V366M1017 361.3V367.8M1018 360.9V367M1019 362.1V370.9M1020 359V367.7M1021 355.5V366.2M1022 362.6V367.4M1023 361.6V369.2M1024 359.6V366.2M1025 359V366.8M1026 360.8V365.5M1027 363.4V369.1M1028 361.2V367.3M1029 363.4V367.9M1030 364.1V369.2M1031 362.1V368.6M1032 363.3V367.1M1033 361.3V369.1M1034 358.1V366.3M1035 361.1V369.5M1036 357.6V367.3M1037 362.9V372.7M1038 362.6V372.6M1039 359.5V368.1M1040 360.5V369.6M1041 360.5V366.2M1042 362.5V368.2M1043 362.4V367.2M1044 360.5V366.8M1045 361.6V366M1046 360V365.1M1047 355.1V369.8M1048 360.9V365.5M1049 359.2V365.5M1050 355.4V366M1051 361.7V367.4M1052 361.2V367.8M1053 361.3V369M1054 361.1V371M1055 360.7V367.9M1056 359.4V365.5M1057 358V371.2M1058 360.9V367.2M1059 359.1V366.1M1060 361V367.3M1061 361.9V367.6M1062 362.4V368.6M1063 360.2V367.9M1064 359.5V367.1M1065 360V365.3M1066 361.5V366.1M1067 360.1V365.1M1068 359.1V364.5M1069 359.7V366M1070 360.6V368.5M1071 358.9V367M1072 362.6V367M1073 362.7V367.4M1074 361V372.8M1075 361.7V367.5M1076 361.7V366.9M1077 359.4V367.9M1078 361.9V369.7M1079 360.6V368.1M1080 362.5V366.6M1081 357.6V367.1M1082 362.4V367.1M1083 362.6V367.9M1084 360.5V371.2M1085 362.1V368.3M1086 362V368.4M1087 361.2V367.7M1088 359.1V366.6M1089 361.9V366.9M1090 361.9V367.8M1091 361.3V365.6M1092 361.3V364.9M1093 361.3V368M1094 361V368M1095 362V367M1096 361.7V366.5M1097 360.8V369.8M1098 361V366M1099 362.4V366.2M1100 360.6V365.3M1101 358.1V370.9M1102 361.3V367.5M1103 360.2V367.4M1104 359.9V366.7M1105 359.8V365.7M1106 361.9V370.4M1107 362.6V368.9M1108 362.9V367.7M1109 356.2V367.2M1110 362.8V369.5M1111 362.7V368.1M1112 363.5V369.6M1113 361.2V365.6M1114 360V369.8M1115 359.5V372.6M1116 361.7V369.7M1117 356.9V369.2M1118 362V367.9M1119 359.2V365.9M1120 358.3V366.5M1121 355.4V366.8M1122 353.6V366M1123 351.3V365.6M1124 349.6V365.1M1125 348.3V366M1126 349.3V385M1127 369.3V396.8M1128 380V403.2M1129 377.3V402.5M1130 372.9V392.8M1131 369.7V387.1M1132 368V381.7M1133 367.2V379.2M1134 365.7V375.1M1135 357.2V372.8M1136 360.7V371.8M1137 364V368.7M1138 358.5V372M1139 360.6V375.3M1140 364.4V369.4M1141 364.8V377.9M1142 364.6V370.1M1143 362.6V371.1M1144 364.3V370.9M1145 366.7V375.8M1146 366.2V372.7M1147 360.9V371.4M1148 364.9V373.1M1149 366.3V371M1150 368.1V373.3M1151 368.3V376.3M1152 366.4V372.2M1153 365.2V371.6M1154 365.7V371.6M1155 366.9V374.6M1156 365V370.3M1157 363.7V371.9M1158 362.5V371.3M1159 364.1V370.9M1160 363.8V369.1M1161 361.4V370.4M1162 364.7V375.2M1163 364.5V369.8M1164 365.1V374.9M1165 368V375.2M1166 365.4V378.2M1167 366.9V374.7M1168 364.7V375.4M1169 367.5V374.5M1170 365.4V373.5M1171 368.7V377.1M1172 363.6V372.7M1173 363V368.4M1174 361.5V374.4M1175 362.6V371.2M1176 364.6V372.6M1177 365.1V372.4M1178 366.6V371.2M1179 366.3V373.9M1180 362V382M1181 362.9V371.1M1182 359.2V371.7M1183 361.9V373.4M1184 363.5V371.4M1185 364.2V373.9M1186 366.9V372.2M1187 365.7V372.2M1188 366V376.2M1189 366.5V379.2M1190 369.3V374.7M1191 367.5V374.1M1192 364.6V374.2M1193 361.2V373.9M1194 364.3V378.8M1195 365V371.2M1196 363.9V369.9M1197 365.7V371.3M1198 360.8V370.2M1199 361.7V373M1200 364V375.3M1201 366V371.9M1202 365.7V372.6M1203 357.3V371.6M1204 366.2V371.3M1205 364V372.8M1206 362.7V374.2M1207 366.2V373.4M1208 359.1V372.5M1209 366.5V372.2M1210 363V382M1211 367.7V373.2M1212 367.1V373.3M1213 368.4V375.7M1214 367V373.1M1215 366.4V371.6M1216 366.2V378.5M1217 364.8V376.8M1218 368.9V378.6M1219 369.1V376.4M1220 368.2V373.6M1221 367.9V375.3M1222 366.8V372.4M1223 366.2V376.2M1224 367.3V374.5M1225 356V373.4M1226 364.3V372.9M1227 368.1V376.1M1228 368.6V377.1M1229 365.2V374.9M1230 367.2V372.6M1231 368.1V375M1232 368.6V376.9M1233 367.7V372.7M1234 361.6V372.4M1235 366.9V374.5M1236 367.5V375.3M1237 364.4V374.8M1238 365.9V371.8M1239 359.2V374.2M1240 363.9V374.5M1241 367.3V376M1242 367.6V373M1243 364.1V376.1M1244 364.4V372.9M1245 360.7V374.5M1246 360.4V370.7M1247 362.7V370.9M1248 365.8V372.9M1249 364.3V374M1250 366.3V379.1M1251 361.5V373.8M1252 362.3V373.1M1253 353.4V370.2M1254 359.6V372.4M1255 363.3V373.4M1256 362.7V377.8M1257 363.9V375M1258 367.9V375.8M1259 367.9V375M1260 365.9V382.8M1261 359.1V382.9M1262 317.3V372.9M1263 302V345.3M1264 299.9V340.9M1265 302.2V349.2M1266 319.6V358.6M1267 336.9V362.3M1268 343.6V366.5M1269 349.1V366.6M1270 352.9V367M1271 354.1V369.2M1272 356V366.6M1273 357.2V373.9M1274 358.2V366.7M1275 358.9V366.7M1276 358.8V366.3M1277 358.7V367.7M1278 354.5V366.9M1279 358.6V366.4M1280 356V374.5M1281 358.9V365.6M1282 355.4V364.9M1283 356V366.2M1284 359.5V366.5M1285 358.3V366.2M1286 355.3V365.7M1287 353.9V368.2M1288 360.2V368.6M1289 356.1V366.7M1290 361.1V370.9M1291 360.3V379.7M1292 359.9V366M1293 360.4V367.6M1294 357V368M1295 358.9V370.3M1296 356.6V369.4M1297 359V367.9M1298 359.9V367M1299 360V368.1M1300 360.4V369.5M1301 358V370.6M1302 356.4V373.1M1303 360.2V372.6M1304 359.1V368.6M1305 357.3V368.1M1306 358.3V367.2M1307 358.9V367.4M1308 358.6V371.8M1309 357.8V367.2M1310 361.7V374.9M1311 360.3V369.5M1312 359.5V370M1313 354.4V369.8M1314 361.4V368.2M1315 359.7V367.6M1316 362.7V371.4M1317 361.9V369.4M1318 359.4V368.3M1319 360V373.4M1320 357.6V371.8M1321 364.2V370.2M1322 361.3V368.9M1323 360.7V372.3M1324 355.7V367.6M1325 359.8V369M1326 359.8V368.7M1327 358V369M1328 358.9V368.3M1329 360.2V367.7M1330 361.8V370.8M1331 358.7V369.2M1332 358.9V367.5M1333 357.4V368.4M1334 357.3V366M1335 355.5V367.9M1336 361.3V367.1M1337 357.7V367.4M1338 353V369.4M1339 362.2V371.8M1340 361V368.4M1341 361.5V372.8M1342 361.8V369M1343 362.6V372.5M1344 358.3V368.8M1345 361.4V368.6M1346 351.1V370.1M1347 361.8V367.7M1348 358.5V366.2M1349 359.4V366.4M1350 360.1V366.2M1351 358.6V369.1M1352 359.3V371M1353 360.2V370.6M1354 361.1V368M1355 359.3V367M1356 358.2V369.7M1357 359.1V372M1358 358.5V371.4M1359 358.5V367.7M1360 361.4V367.1M1361 361.8V373M1362 360.6V371.1M1363 359.8V369.4M1364 359.1V372.5M1365 358.7V375.5M1366 358.7V367.5M1367 359.1V367.2M1368 360.2V373.1M1369 358.3V365.6M1370 359.4V367.5M1371 355.5V370.1M1372 359.1V369.4M1373 357.4V368.6M1374 357V368.4M1375 356.5V369.5M1376 355.6V369.7M1377 356.6V368.6M1378 355.7V369.6M1379 354.4V368.2M1380 352.7V369.4M1381 353V368.8M1382 353.8V367.1M1383 351.2V367.9M1384 351.2V368.3M1385 351.7V368.8M1386 350.3V369.7M1387 349.9V369M1388 349V369.1M1389 348.1V367.8M1390 346.8V370.5M1391 346.1V369.9M1392 347.1V368.1M1393 346.5V367.5M1394 344.8V368.9M1395 343.9V367.9M1396 345V401.4M1397 379.2V425.6M1398 394.7V435.3M1399 391.9V431.9M1400 386.8V425M1401 382.7V420.8M1402 379.3V412.2M1403 376.7V408.1M1404 373V403M1405 371.4V398.7M1406 368.6V395M1407 366.9V392.5M1408 357.8V375.7M1409 361.8V371.9M1410 357.9V384.6M1411 361V375.7M1412 362.1V388.7M1413 353.2V376.4M1414 357V386.4M1415 360V375.3M1416 358.1V376.6M1417 365.3V381.2M1418 353.2V372.1M1419 359.8V370.9M1420 359.4V376.5M1421 361.4V374.2M1422 356.1V371.6M1423 359.6V374.4M1424 361V377.1M1425 363.4V373.4M1426 361.2V370.3M1427 351.9V369.9M1428 360.9V369.3M1429 358.6V372.4M1430 362.8V373M1431 362V373.7M1432 359.9V370.5M1433 359.4V371M1434 352.9V372.8M1435 359.7V369.5M1436 358.4V371.4M1437 362.9V375M1438 363.2V371.6M1439 364V373.7M1440 356.5V380.3M1441 363.3V372.5M1442 362.1V379.9M1443 364.2V374.3M1444 359.9V371.8M1445 362.9V370.8M1446 352.5V377.8M1447 363.4V372.7M1448 360.7V371.4M1449 361.2V374.2M1450 362.8V373.6M1451 356.5V374.1M1452 365.1V373.8M1453 363.4V372.8M1454 357.1V371.3M1455 361.1V371M1456 362V380.3M1457 363.2V372M1458 363.6V373.3M1459 363.2V372.7M1460 358.9V368.6M1461 356.8V368.9M1462 350.2V367.3M1463 360V371.8M1464 362.4V369.6M1465 351.3V370.4M1466 359.9V369.2M1467 361V371.2M1468 360.8V371.1M1469 359.3V369.1M1470 361.6V372.3M1471 354.5V366.3M1472 354.8V371.1M1473 354.6V372.6M1474 357.3V369.2M1475 354.8V368.5M1476 356.2V370.1M1477 359.3V370.9M1478 358.3V371.7M1479 355.9V365.8M1480 354.1V369.3M1481 358.8V367.5M1482 362.8V374.2M1483 357.3V387.1M1484 357.6V370.4M1485 356.4V371.2M1486 354.1V367.8M1487 360.2V369.1M1488 361.6V373.4M1489 360.4V380.2M1490 354.8V365.5M1491 358.3V370.4M1492 355.1V367.8M1493 358.6V371.8M1494 354.6V366.9M1495 353.4V364.8M1496 357.4V374.1M1497 355.5V365.1M1498 354.1V367.5M1499 357.3V372.6M1500 356.8V375.1M1501 359.5V373.7M1502 348.4V372.8M1503 359.6V370.6M1504 359.9V369.9M1505 357.9V371.6M1506 355.6V370.4M1507 355.8V368.5M1508 361.1V372.4M1509 357.6V371.3M1510 357.6V370.2M1511 357.5V368.3M1512 350.5V374.3M1513 356.6V371.1M1514 353.9V366.5M1515 345.3V365.6M1516 338.6V363.8M1517 350.4V366.8M1518 357.5V369.8M1519 355V374.7M1520 349.9V376.7M1521 353.6V371.1M1522 346.5V379.3M1523 343.8V367.9M1524 348.3V368.4M1525 355.2V369.7M1526 349.9V366.7M1527 355.1V377.3M1528 346.7V374.7M1529 354.7V377.9M1530 357.7V385.2M1531 355.2V371.4M1532 346.4V377.6M1533 338.6V370.8M1534 317.7V373.2M1535 294.7V361.4M1536 273.5V353.2M1537 299.4V380.5M1538 348.8V406.2M1539 371.1V417.1M1540 379.7V413M1541 376.9V407.5M1542 375.3V403.2M1543 372.9V398.7M1544 370.6V394.9M1545 369.4V391.4M1546 367.3V389.1M1547 364.7V387.5M1548 365.6V394M1549 364.3V377.4M1550 358.5V375.6M1551 351.6V379.2M1552 363.2V380.1M1553 356.4V374.2M1554 361.5V376.3M1555 354.8V376.2M1556 359.9V379.5M1557 360.9V374.2M1558 363.5V374.5M1559 361.6V375.4M1560 364.3V376.3M1561 361.4V383.8M1562 361.2V375.6M1563 362.3V387M1564 360.8V377.4M1565 350.7V381.1M1566 355.1V371.6M1567 357.2V371.8M1568 343.5V372.7M1569 362V375.1M1570 368.8V385M1571 362.6V375.3M1572 362.9V375.6M1573 366.7V380.5M1574 360.3V370.9M1575 361.9V375M1576 362.9V391.4M1577 366.5V379.1M1578 363.2V375.7M1579 366.6V380.8M1580 354.6V377.2M1581 354.8V374M1582 342.8V372M1583 357.7V383.3M1584 361.6V379.5M1585 356.8V385.4M1586 365.5V379.3M1587 358.6V376.7M1588 356V377.2M1589 366.2V384M1590 356.5V374.1M1591 360.7V380M1592 359.5V381.1M1593 360.5V376.1M1594 356.5V370.8M1595 360.4V372.8M1596 353.8V369.8M1597 357.4V371.6M1598 353.1V371.3M1599 353.8V370.7M1600 343.4V370.8M1601 352.8V372.2M1602 354.4V377.1M1603 353.7V376.3M1604 359.6V376.6M1605 358.4V371.6M1606 354.8V374.4M1607 357.8V375.1M1608 353V371.7M1609 354.8V375.7M1610 357.2V376M1611 356V371.5M1612 353.1V368.3M1613 355.1V373.5M1614 354.5V367M1615 358.5V376.1M1616 359V372.4M1617 355V374.9M1618 346.7V377.9M1619 355.2V379.5M1620 361.9V379M1621 359.6V376.3M1622 364.3V384.9M1623 363.6V378.1M1624 345V397M1625 342V380M1626 354.2V382.1M1627 357.9V375.8M1628 358.2V371.9M1629 356.1V380.2M1630 356.4V373.6M1631 358.9V377.7M1632 358.9V374.4M1633 356.2V375.6M1634 350.1V371.2M1635 357.3V372.1M1636 363.1V378M1637 354.3V372.9M1638 352.6V370.2M1639 334.4V378.8M1640 355V391M1641 355.7V373.3M1642 350.7V368.3M1643 350.7V371.2M1644 355.4V368.6M1645 354.7V372.2M1646 345.9V371.6M1647 352.6V390.5M1648 355.8V374.6M1649 361.6V373.5M1650 355.3V382.1M1651 360.1V372.8M1652 364.6V379.6M1653 361.7V374.8M1654 362V380.3M1655 355.4V391M1656 357.2V373.7M1657 357.3V372.2M1658 356.1V370.3M1659 356.8V373.1M1660 352V370.3" stroke="#0000FF" stroke-width="1" fill="none" transform="translate(0.5 0)"/><rect x="316.5" y="262.5" width="1344" height="231" fill="none" stroke="#000"/><path d="M1537.5 263V493" stroke="#FF8000" stroke-width="1"/><path d="M1534.5 347.5l3-3 3 3-3 3z" fill="#FF8000" shape-rendering="auto"/><path d="M313.5 262V494" stroke="#000" stroke-width="1"/><path d="M306 299.5H313M306 337.5H313M306 374.5H313M306 412.5H313M306 449.5H313M306 487.5H313" stroke="#000"/><path d="M309.5 280.5H313M309.5 318.5H313M309.5 356.5H313M309.5 393.5H313M309.5 430.5H313M309.5 468.5H313" stroke="#000"/><text x="305" y="303.5" text-anchor="end" fill="#000" class="num">0.998150</text><text x="305" y="341.5" text-anchor="end" fill="#000" class="num">0.998100</text><text x="305" y="378.5" text-anchor="end" fill="#000" class="num">0.998050</text><text x="305" y="416.5" text-anchor="end" fill="#000" class="num">0.998000</text><text x="305" y="453.5" text-anchor="end" fill="#000" class="num">0.997950</text><text x="305" y="491.5" text-anchor="end" fill="#000" class="num">0.997900</text><path d="M316 497.5H1661" stroke="#000" stroke-width="1"/><path d="M316.5 497V504M385.5 497V504M454.5 497V504M523.5 497V504M591.5 497V504M660.5 497V504M729.5 497V504M798.5 497V504M867.5 497V504M936.5 497V504M1005.5 497V504M1074.5 497V504M1142.5 497V504M1211.5 497V504M1280.5 497V504M1349.5 497V504M1418.5 497V504M1487.5 497V504M1556.5 497V504M1624.5 497V504" stroke="#000"/><path d="M330.5 497V501M344.5 497V501M357.5 497V501M371.5 497V501M399.5 497V501M412.5 497V501M426.5 497V501M440.5 497V501M468.5 497V501M481.5 497V501M495.5 497V501M509.5 497V501M536.5 497V501M550.5 497V501M564.5 497V501M578.5 497V501M605.5 497V501M619.5 497V501M633.5 497V501M647.5 497V501M674.5 497V501M688.5 497V501M702.5 497V501M715.5 497V501M743.5 497V501M757.5 497V501M771.5 497V501M784.5 497V501M812.5 497V501M826.5 497V501M839.5 497V501M853.5 497V501M881.5 497V501M894.5 497V501M908.5 497V501M922.5 497V501M950.5 497V501M963.5 497V501M977.5 497V501M991.5 497V501M1018.5 497V501M1032.5 497V501M1046.5 497V501M1060.5 497V501M1087.5 497V501M1101.5 497V501M1115.5 497V501M1129.5 497V501M1156.5 497V501M1170.5 497V501M1184.5 497V501M1197.5 497V501M1225.5 497V501M1239.5 497V501M1253.5 497V501M1266.5 497V501M1294.5 497V501M1308.5 497V501M1321.5 497V501M1335.5 497V501M1363.5 497V501M1377.5 497V501M1390.5 497V501M1404.5 497V501M1432.5 497V501M1445.5 497V501M1459.5 497V501M1473.5 497V501M1500.5 497V501M1514.5 497V501M1528.5 497V501M1542.5 497V501M1569.5 497V501M1583.5 497V501M1597.5 497V501M1611.5 497V501M1638.5 497V501M1652.5 497V501" stroke="#000"/><text x="316.5" y="516" text-anchor="middle" fill="#000" class="num">0</text><text x="385.364" y="516" text-anchor="middle" fill="#000" class="num">1000</text><text x="454.228" y="516" text-anchor="middle" fill="#000" class="num">2000</text><text x="523.092" y="516" text-anchor="middle" fill="#000" class="num">3000</text><text x="591.956" y="516" text-anchor="middle" fill="#000" class="num">4000</text><text x="660.82" y="516" text-anchor="middle" fill="#000" class="num">5000</text><text x="729.684" y="516" text-anchor="middle" fill="#000" class="num">6000</text><text x="798.548" y="516" text-anchor="middle" fill="#000" class="num">7000</text><text x="867.412" y="516" text-anchor="middle" fill="#000" class="num">8000</text><text x="936.276" y="516" text-anchor="middle" fill="#000" class="num">9000</text><text x="1005.14" y="516" text-anchor="middle" fill="#000" class="num">10000</text><text x="1074" y="516" text-anchor="middle" fill="#000" class="num">11000</text><text x="1142.87" y="516" text-anchor="middle" fill="#000" class="num">12000</text><text x="1211.73" y="516" text-anchor="middle" fill="#000" class="num">13000</text><text x="1280.6" y="516" text-anchor="middle" fill="#000" class="num">14000</text><text x="1349.46" y="516" text-anchor="middle" fill="#000" class="num">15000</text><text x="1418.32" y="516" text-anchor="middle" fill="#000" class="num">16000</text><text x="1487.19" y="516" text-anchor="middle" fill="#000" class="num">17000</text><text x="1556.05" y="516" text-anchor="middle" fill="#000" class="num">18000</text><text x="1624.92" y="516" text-anchor="middle" fill="#000" class="num">19000</text>
<text x="1657" y="257.2" text-anchor="end" fill="#000" style="letter-spacing:0.29px">[1.77330e+004,9.98086e-001]</text>
<rect x="316" y="589" width="1345" height="232" fill="#fff"/><rect x="1500" y="590" width="58" height="230" fill="#FFFAEE"/><path d="M330.5 590V820M344.5 590V820M357.5 590V820M371.5 590V820M399.5 590V820M412.5 590V820M426.5 590V820M440.5 590V820M468.5 590V820M481.5 590V820M495.5 590V820M509.5 590V820M536.5 590V820M550.5 590V820M564.5 590V820M578.5 590V820M605.5 590V820M619.5 590V820M633.5 590V820M647.5 590V820M674.5 590V820M688.5 590V820M702.5 590V820M715.5 590V820M743.5 590V820M757.5 590V820M771.5 590V820M784.5 590V820M812.5 590V820M826.5 590V820M839.5 590V820M853.5 590V820M881.5 590V820M894.5 590V820M908.5 590V820M922.5 590V820M950.5 590V820M963.5 590V820M977.5 590V820M991.5 590V820M1018.5 590V820M1032.5 590V820M1046.5 590V820M1060.5 590V820M1087.5 590V820M1101.5 590V820M1115.5 590V820M1129.5 590V820M1156.5 590V820M1170.5 590V820M1184.5 590V820M1197.5 590V820M1225.5 590V820M1239.5 590V820M1253.5 590V820M1266.5 590V820M1294.5 590V820M1308.5 590V820M1321.5 590V820M1335.5 590V820M1363.5 590V820M1377.5 590V820M1390.5 590V820M1404.5 590V820M1432.5 590V820M1445.5 590V820M1459.5 590V820M1473.5 590V820M1500.5 590V820M1514.5 590V820M1528.5 590V820M1542.5 590V820M1569.5 590V820M1583.5 590V820M1597.5 590V820M1611.5 590V820M1638.5 590V820M1652.5 590V820" stroke="#D4D0C8"/><path d="M317 609.5H1660M317 645.5H1660M317 682.5H1660M317 718.5H1660M317 754.5H1660M317 791.5H1660" stroke="#D4D0C8"/><path d="M385.5 590V820M454.5 590V820M523.5 590V820M591.5 590V820M660.5 590V820M729.5 590V820M798.5 590V820M867.5 590V820M936.5 590V820M1005.5 590V820M1074.5 590V820M1142.5 590V820M1211.5 590V820M1280.5 590V820M1349.5 590V820M1418.5 590V820M1487.5 590V820M1556.5 590V820M1624.5 590V820" stroke="#008080"/><path d="M317 627.5H1660M317 664.5H1660M317 700.5H1660M317 736.5H1660M317 773.5H1660M317 809.5H1660" stroke="#008080"/><path d="M317 590.5H1660" stroke="#008080"/><path d="M316 809 316.5 809 317 809 317.5 809 318 809 318.5 809 319 809 319.5 809 320 809 320.5 809 321 809 321.5 809 322 809 322.5 809 323 809 323.5 809 324 809 324.5 809 325 809 325.5 809 326 809 326.5 809 327 809 327.5 809 328 809 328.5 809 329 809 329.5 809 330 809 330.5 809 331 809 331.5 809 332 809 332.5 809 333 809 333.5 809 334 809 334.5 809 335 809 335.5 809 336 809 336.5 809 337 809 337.5 809 338 809 338.5 809 339 809 339.5 809 340 809 340.5 809 341 809 341.5 809 342 809 342.5 809 343 809 343.5 809 344 809 344.5 809 345 809 345.5 809 346 809 346.5 809 347 809 347.5 809 348 809 348.5 809 349 809 349.5 809 350 809 350.5 809 351 809 351.5 809 352 809 352.5 809 353 809 353.5 808.9 354 808.9 354.5 808.9 355 808.9 355.5 808.9 356 808.9 356.5 808.9 357 808.9 357.5 808.9 358 808.9 358.5 808.9 359 808.9 359.5 808.9 360 808.9 360.5 808.9 361 808.9 361.5 808.9 362 808.9 362.5 808.9 363 808.9 363.5 808.9 364 808.9 364.5 808.9 365 808.9 365.5 808.9 366 808.9 366.5 808.9 367 808.9 367.5 808.8 368 808.8 368.5 808.8 369 808.8 369.5 808.8 370 808.8 370.5 808.8 371 808.8 371.5 808.7 372 808.7 372.5 808.7 373 808.6 373.5 808.5 374 808.4 374.5 808.3 375 808.2 375.5 808.1 376 808 376.5 807.8 377 807.7 377.5 807.6 378 807.5 378.5 807.4 379 807.3 379.5 807.1 380 807 380.5 806.9 381 806.7 381.5 806.1 382 805.3 382.5 804.2 383 802.4 383.5 799.5 384 794.6 384.5 785.9 385 771.4 385.5 757.8 386 763.9 386.5 780 387 791.3 387.5 797.6 388 801.3 388.5 803.4 389 804.8 389.5 805.8 390 806.4 390.5 806.9 391 807 391.5 807.1 392 807.2 392.5 807.3 393 807.4 393.5 807.5 394 807.6 394.5 807.7 395 807.8 395.5 807.9 396 808 396.5 808 397 808.1 397.5 808.1 398 808.2 398.5 808.2 399 808.2 399.5 808.3 400 808.3 400.5 808.4 401 808.4 401.5 808.4 402 808.5 402.5 808.7 403 808.8 403.5 808.8 404 808.8 404.5 808.9 405 808.9 405.5 808.9 406 808.9 406.5 808.9 407 808.9 407.5 808.9 408 808.9 408.5 808.9 409 808.9 409.5 808.9 410 808.9 410.5 808.9 411 808.9 411.5 808.9 412 808.9 412.5 808.9 413 808.9 413.5 808.9 414 808.9 414.5 808.9 415 808.9 415.5 808.9 416 808.9 416.5 808.9 417 808.9 417.5 808.9 418 809 418.5 809 419 809 419.5 809 420 809 420.5 809 421 809 421.5 809 422 809 422.5 809 423 809 423.5 809 424 809 424.5 809 425 809 425.5 809 426 809 426.5 809 427 809 427.5 809 428 809 428.5 809 429 809 429.5 809 430 809 430.5 809 431 809 431.5 809 432 809 432.5 809 433 809 433.5 809 434 809 434.5 809 435 809 435.5 809 436 809 436.5 809 437 809 437.5 809 438 809 438.5 809 439 809 439.5 809 440 809 440.5 809 441 809 441.5 809 442 809 442.5 809 443 809 443.5 809 444 809 444.5 809 445 809 445.5 809 446 809 446.5 809 447 809 447.5 809 448 809 448.5 809 449 809 449.5 809 450 809 450.5 809 451 809 451.5 809 452 809 452.5 809 453 809 453.5 809 454 809 454.5 809 455 809 455.5 809 456 809 456.5 808.9 457 808.9 457.5 808.7 458 808.1 458.5 807.5 459 808.1 459.5 808.7 460 808.9 460.5 808.9 461 808.9 461.5 808.9 462 808.9 462.5 808.9 463 808.9 463.5 808.9 464 808.9 464.5 808.9 465 808.9 465.5 808.5 466 808.2 466.5 808.2 467 808.2 467.5 808.2 468 808.1 468.5 808.1 469 808.1 469.5 808.1 470 808 470.5 808 471 808 471.5 808 472 807.9 472.5 807.9 473 807.9 473.5 807.8 474 807.8 474.5 807.8 475 807.8 475.5 807.7 476 807.7 476.5 807.7 477 807.6 477.5 807.6 478 807.6 478.5 807.6 479 807.5 479.5 807.5 480 807.2 480.5 806.6 481 806 481.5 805.4 482 804.8 482.5 804.2 483 803.5 483.5 801.2 484 797.2 484.5 790.1 485 778.1 485.5 766 486 769.9 486.5 783.5 487 793.5 487.5 799.1 488 802.3 488.5 804.2 489 805.1 489.5 805.5 490 805.9 490.5 806.3 491 806.8 491.5 806.9 492 807 492.5 807 493 807.1 493.5 807.2 494 807.4 494.5 807.5 495 807.5 495.5 807.6 496 807.8 496.5 807.9 497 808 497.5 807.8 498 807.3 498.5 806.8 499 806.4 499.5 805.9 500 805.5 500.5 805 501 806 501.5 807 502 808 502.5 808.5 503 808.4 503.5 808.3 504 808.3 504.5 808.2 505 808.1 505.5 808.1 506 808 506.5 808.1 507 808.3 507.5 808.4 508 808.5 508.5 808.7 509 808.8 509.5 808.9 510 808.9 510.5 808.9 511 808.9 511.5 808.9 512 808.9 512.5 808.9 513 808.9 513.5 808.9 514 808.9 514.5 808.9 515 808.9 515.5 808.9 516 808.9 516.5 808.9 517 808.9 517.5 808.9 518 808.9 518.5 808.8 519 808.8 519.5 808.8 520 808.8 520.5 808.8 521 808.8 521.5 808.8 522 808.8 522.5 808.8 523 808.8 523.5 808.8 524 808.7 524.5 808.7 525 808.7 525.5 808.7 526 808.7 526.5 808.7 527 808.7 527.5 808.7 528 808.7 528.5 808.7 529 808.6 529.5 808.6 530 808.6 530.5 808.6 531 808.6 531.5 808.6 532 808.6 532.5 808.6 533 808.6 533.5 808.6 534 808.6 534.5 808.5 535 808.5 535.5 808.5 536 808.5 536.5 808.5 537 808.5 537.5 808.2 538 807.8 538.5 807.2 539 806.8 539.5 806.2 540 806.2 540.5 806.8 541 807.2 541.5 807.8 542 808.2 542.5 808.6 543 808.8 543.5 809 544 809 544.5 809 545 809 545.5 809 546 809 546.5 809 547 809 547.5 809 548 809 548.5 809 549 809 549.5 809 550 809 550.5 809 551 809 551.5 809 552 809 552.5 809 553 809 553.5 809 554 809 554.5 809 555 809 555.5 809 556 809 556.5 809 557 809 557.5 809 558 809 558.5 809 559 809 559.5 809 560 809 560.5 809 561 809 561.5 809 562 809 562.5 809 563 809 563.5 809 564 809 564.5 809 565 809 565.5 809 566 809 566.5 809 567 809 567.5 809 568 809 568.5 809 569 809 569.5 809 570 809 570.5 809 571 809 571.5 809 572 809 572.5 809 573 809 573.5 809 574 809 574.5 808.9 575 808.9 575.5 808.9 576 808.9 576.5 808.9 577 808.9 577.5 808.9 578 808.9 578.5 808.9 579 808.9 579.5 808.9 580 808.9 580.5 808.9 581 808.9 581.5 808.9 582 808.9 582.5 808.9 583 808.9 583.5 808.9 584 808.9 584.5 808.9 585 808.8 585.5 808.4 586 808 586.5 808 587 807.9 587.5 807.9 588 807.8 588.5 807.8 589 807.8 589.5 807.7 590 807.7 590.5 807.6 591 807.6 591.5 807.6 592 807.5 592.5 807.8 593 808.4 593.5 808.5 594 808.4 594.5 808.3 595 808.2 595.5 808.1 596 808 596.5 807.6 597 807.2 597.5 806.8 598 806.3 598.5 805.9 599 805.5 599.5 804.6 600 803.2 600.5 801.4 601 799.3 601.5 797.7 602 797.5 602.5 798.8 603 800.9 603.5 802.8 604 804.3 604.5 805.3 605 805.7 605.5 806 606 806.3 606.5 806.7 607 807 607.5 807.3 608 807.7 608.5 808 609 808 609.5 808.1 610 808.1 610.5 808.2 611 808.2 611.5 808.3 612 808.4 612.5 808.4 613 808.5 613.5 808.5 614 808.7 614.5 808.8 615 808.8 615.5 808.8 616 808.8 616.5 808.8 617 808.8 617.5 808.8 618 808.9 618.5 808.9 619 808.9 619.5 808.9 620 808.9 620.5 808.9 621 808.9 621.5 808.9 622 808.9 622.5 808.9 623 808.9 623.5 808.9 624 808.9 624.5 808.9 625 808.9 625.5 808.9 626 808.9 626.5 808.9 627 808.9 627.5 808.9 628 808.9 628.5 808.9 629 808.9 629.5 809 630 808.8 630.5 808.4 631 808 631.5 808 632 808 632.5 808 633 808 633.5 808 634 808 634.5 808 635 807.8 635.5 807.3 636 806.8 636.5 806.4 637 805.9 637.5 805.5 638 805 638.5 805.5 639 806 639.5 806.5 640 807 640.5 807.5 641 808 641.5 808 642 808.1 642.5 808.1 643 808.2 643.5 808.2 644 808.3 644.5 808.4 645 808.4 645.5 808.5 646 808.5 646.5 808.7 647 808.9 647.5 809 648 809 648.5 809 649 809 649.5 809 650 809 650.5 809 651 809 651.5 809 652 809 652.5 809 653 809 653.5 809 654 809 654.5 809 655 809 655.5 809 656 809 656.5 809 657 809 657.5 809 658 809 658.5 809 659 809 659.5 809 660 809 660.5 809 661 809 661.5 809 662 809 662.5 809 663 809 663.5 809 664 809 664.5 809 665 809 665.5 809 666 809 666.5 809 667 809 667.5 809 668 809 668.5 809 669 809 669.5 809 670 809 670.5 809 671 809 671.5 809 672 809 672.5 809 673 809 673.5 809 674 809 674.5 809 675 809 675.5 809 676 809 676.5 809 677 809 677.5 809 678 809 678.5 809 679 808.9 679.5 808.9 680 808.9 680.5 808.9 681 808.9 681.5 808.9 682 808.9 682.5 808.9 683 808.9 683.5 808.9 684 808.9 684.5 808.9 685 808.8 685.5 808.4 686 808 686.5 808.4 687 808.8 687.5 808.9 688 808.9 688.5 808.9 689 808.9 689.5 808.9 690 808.9 690.5 808.9 691 808.9 691.5 808.9 692 808.9 692.5 808.9 693 808.9 693.5 808.9 694 808.9 694.5 808.9 695 808.9 695.5 808.9 696 808.9 696.5 808.9 697 808.9 697.5 808.9 698 808.9 698.5 808.9 699 808.8 699.5 808.7 700 808.5 700.5 808.5 701 808.5 701.5 808.4 702 808.4 702.5 808.4 703 808.4 703.5 808.3 704 808.3 704.5 808.3 705 808.2 705.5 808.2 706 808.2 706.5 808.2 707 808.1 707.5 808.1 708 808.1 708.5 808.1 709 808 709.5 808 710 808 710.5 807.2 711 806.5 711.5 805.8 712 805 712.5 805.9 713 806.7 713.5 807.6 714 808 714.5 807.9 715 807.8 715.5 807.8 716 807.7 716.5 807.6 717 807.6 717.5 807.5 718 807.4 718.5 807.4 719 807.3 719.5 807.2 720 807.2 720.5 806.9 721 806.7 721.5 806.3 722 805.9 722.5 805.3 723 804.6 723.5 803.7 724 802.5 724.5 800.8 725 798.5 725.5 795.1 726 790.2 726.5 782.9 727 772.8 727.5 761.3 728 754.7 728.5 758.8 729 769.9 729.5 780.6 730 788.6 730.5 790 731 797.7 731.5 800.3 732 802.1 732.5 803.4 733 804.4 733.5 805.2 734 805.7 734.5 806.2 735 806.6 735.5 806.9 736 807.1 736.5 807.3 737 807.5 737.5 807.7 738 807.8 738.5 807.9 739 808 739.5 808.1 740 808.1 740.5 808.1 741 808.1 741.5 808.1 742 808.1 742.5 808.1 743 808.1 743.5 808.1 744 808.1 744.5 808.1 745 808.1 745.5 808.1 746 808.2 746.5 808.2 747 808.2 747.5 808.2 748 808.2 748.5 808.2 749 808.2 749.5 808.2 750 808.2 750.5 808.2 751 808.2 751.5 808.2 752 808.2 752.5 808.2 753 808.3 753.5 808.3 754 808.3 754.5 808.3 755 808.3 755.5 808.3 756 808.3 756.5 808.3 757 808.3 757.5 808.3 758 808.3 758.5 808.3 759 808.3 759.5 808.4 760 808.4 760.5 808.4 761 808.4 761.5 808.4 762 808.4 762.5 808.4 763 808.4 763.5 808.4 764 808.4 764.5 808.4 765 808.4 765.5 808.4 766 808.4 766.5 808.5 767 808.5 767.5 808.5 768 808.5 768.5 808.5 769 808.5 769.5 808.5 770 808.5 770.5 808.5 771 808.5 771.5 808.5 772 808.5 772.5 808.5 773 808.5 773.5 808.5 774 808.5 774.5 808.4 775 808.4 775.5 808.4 776 808.4 776.5 808.4 777 808.4 777.5 808.4 778 808.4 778.5 808.4 779 808.4 779.5 808.4 780 808.4 780.5 808.4 781 808.4 781.5 808.4 782 808.4 782.5 808.3 783 808.3 783.5 808.3 784 808.3 784.5 808.3 785 808.3 785.5 808.3 786 808.3 786.5 808.3 787 808.3 787.5 808.3 788 808.3 788.5 808.3 789 808.3 789.5 808.3 790 808.2 790.5 808.2 791 808.2 791.5 808.2 792 808.2 792.5 808.2 793 808.2 793.5 808.2 794 808.2 794.5 808.2 795 808.2 795.5 808.2 796 808.2 796.5 808.2 797 808.2 797.5 808.2 798 808.1 798.5 808.1 799 808.1 799.5 808.1 800 808.1 800.5 808.1 801 808.1 801.5 808.1 802 808.1 802.5 808.1 803 808.1 803.5 808.1 804 808.1 804.5 808.1 805 808.1 805.5 808.1 806 808 806.5 808 807 808 807.5 808 808 808 808.5 808 809 808 809.5 808 810 808 810.5 807.9 811 807.8 811.5 807.7 812 807.6 812.5 807.5 813 807.5 813.5 807.4 814 807.3 814.5 807.2 815 807.1 815.5 807 816 805 816.5 803 817 801 817.5 799 818 801 818.5 803 819 805 819.5 807 820 807 820.5 807.1 821 807.1 821.5 807.2 822 807.2 822.5 807.3 823 807.3 823.5 807.4 824 807.4 824.5 807.5 825 807.5 825.5 807.5 826 807.4 826.5 807.4 827 807.4 827.5 807.3 828 807.3 828.5 807.3 829 807.2 829.5 807.2 830 807.2 830.5 807.1 831 807.1 831.5 807.1 832 807 832.5 807 833 807 833.5 806.9 834 806.9 834.5 806.9 835 806.8 835.5 806.8 836 806.8 836.5 806.7 837 806.7 837.5 806.7 838 806.6 838.5 806.6 839 806.6 839.5 806.5 840 806.5 840.5 806.4 841 806.3 841.5 806.2 842 806.1 842.5 806 843 805.9 843.5 805.8 844 805.7 844.5 805.6 845 805.5 845.5 805.4 846 805.3 846.5 805.2 847 805.1 847.5 805 848 804.9 848.5 804.8 849 804.7 849.5 804.6 850 804.5 850.5 804 851 803.6 851.5 803.1 852 802.7 852.5 802.2 853 801.8 853.5 801.4 854 800.9 854.5 800.5 855 799.5 855.5 797.9 856 795.8 856.5 793.3 857 790 857.5 786 858 781.2 858.5 775.7 859 770.1 859.5 765.5 860 763.2 860.5 764.3 861 768.1 861.5 773.5 862 779.2 862.5 784.3 863 788.6 863.5 792.1 864 794.9 864.5 796.5 865 797.9 865.5 799.2 866 800.6 866.5 801.4 867 801.7 867.5 802 868 802.3 868.5 802.6 869 802.9 869.5 803.2 870 803.5 870.5 803.8 871 804.1 871.5 804.4 872 804.7 872.5 805 873 805.1 873.5 805.2 874 805.3 874.5 805.4 875 805.5 875.5 805.6 876 805.7 876.5 805.8 877 805.9 877.5 806 878 806.1 878.5 806.2 879 806.3 879.5 806.4 880 806.5 880.5 806.5 881 806.5 881.5 806.5 882 806.6 882.5 806.6 883 806.6 883.5 806.6 884 806.6 884.5 806.6 885 806.7 885.5 806.7 886 806.7 886.5 806.7 887 806.7 887.5 806.8 888 806.8 888.5 806.8 889 806.8 889.5 806.8 890 806.8 890.5 806.9 891 806.9 891.5 806.9 892 806.9 892.5 806.9 893 806.9 893.5 807 894 807 894.5 807 895 807 895.5 807.1 896 807.2 896.5 807.3 897 807.4 897.5 807.5 898 807.6 898.5 807.7 899 807.8 899.5 807.9 900 808 900.5 808 901 808 901.5 808 902 807.9 902.5 807.9 903 807.9 903.5 807.9 904 807.9 904.5 807.9 905 807.8 905.5 807.8 906 807.8 906.5 807.8 907 807.8 907.5 807.8 908 807.8 908.5 807.7 909 807.7 909.5 807.7 910 807.7 910.5 807.7 911 807.7 911.5 807.6 912 807.6 912.5 807.6 913 807.6 913.5 807.6 914 807.6 914.5 807.6 915 807.5 915.5 807.5 916 807.5 916.5 807.5 917 807.5 917.5 807.5 918 807.4 918.5 807.4 919 807.4 919.5 807.4 920 807.4 920.5 807.4 921 807.4 921.5 807.3 922 807.3 922.5 807.3 923 807.3 923.5 807.3 924 807.3 924.5 807.2 925 807.2 925.5 807.2 926 807.2 926.5 807.2 927 807.2 927.5 807.2 928 807.1 928.5 807.1 929 807.1 929.5 807.1 930 807.1 930.5 807.1 931 807 931.5 807 932 807 932.5 807 933 806.7 933.5 806.3 934 806 934.5 805.7 935 805.3 935.5 805 936 805.8 936.5 806.7 937 807.5 937.5 807.4 938 807.3 938.5 807.2 939 807.2 939.5 807.1 940 807 940.5 807 941 807 941.5 806.9 942 806.9 942.5 806.9 943 806.9 943.5 806.9 944 806.8 944.5 806.8 945 806.8 945.5 806.8 946 806.8 946.5 806.7 947 806.7 947.5 806.7 948 806.7 948.5 806.7 949 806.6 949.5 806.6 950 806.6 950.5 806.6 951 806.6 951.5 806.5 952 806.5 952.5 806.5 953 805.8 953.5 805.1 954 804.4 954.5 803.7 955 803 955.5 802 956 801 956.5 800 957 800.6 957.5 802.7 958 804.8 958.5 806.9 959 807.9 959.5 807.8 960 807.7 960.5 807.6 961 807.5 961.5 807.3 962 807.2 962.5 807.1 963 807 963.5 806.9 964 806.7 964.5 806.6 965 806.5 965.5 806.4 966 806.3 966.5 806.3 967 806.2 967.5 806.1 968 806 968.5 805.9 969 805.9 969.5 805.8 970 805.7 970.5 805.6 971 805.5 971.5 805.5 972 805.4 972.5 805.3 973 805.2 973.5 805.1 974 805.1 974.5 805 975 804.9 975.5 804.8 976 804.7 976.5 804.7 977 804.6 977.5 804.5 978 804.3 978.5 804.1 979 803.9 979.5 803.6 980 803.4 980.5 803.2 981 803 981.5 802.8 982 802.5 982.5 802.3 983 802.1 983.5 801.9 984 801.7 984.5 801.5 985 801.2 985.5 800.4 986 799.5 986.5 798.6 987 797.8 987.5 796.9 988 796 988.5 795.1 989 794.1 989.5 791.1 990 787.1 990.5 781.8 991 774.8 991.5 765.3 992 753 992.5 737.9 993 722.2 993.5 711.5 994 711.4 994.5 722 995 737.6 995.5 752.8 996 765.2 996.5 774.7 997 781.4 997.5 784.5 998 787.7 998.5 790.9 999 792.9 999.5 793.8 1000 794.6 1000.5 795.4 1001 796.2 1001.5 797.1 1002 797.9 1002.5 798.8 1003 799 1003.5 799.3 1004 799.6 1004.5 799.9 1005 800.1 1005.5 800.4 1006 800.7 1006.5 801 1007 801.2 1007.5 801.5 1008 801.6 1008.5 801.7 1009 801.8 1009.5 801.9 1010 802 1010.5 802.1 1011 802.2 1011.5 802.3 1012 802.4 1012.5 802.5 1013 802.6 1013.5 802.7 1014 802.8 1014.5 802.9 1015 803 1015.5 803 1016 803 1016.5 803.1 1017 803.1 1017.5 803.1 1018 803.1 1018.5 803.2 1019 803.2 1019.5 803.2 1020 803.2 1020.5 803.3 1021 803.3 1021.5 803.3 1022 803.4 1022.5 803.4 1023 803.4 1023.5 803.4 1024 803.5 1024.5 803.5 1025 803.5 1025.5 803 1026 802.6 1026.5 802.1 1027 801.6 1027.5 801.2 1028 800.7 1028.5 800.2 1029 799.4 1029.5 798.3 1030 797.1 1030.5 796 1031 797.9 1031.5 799.9 1032 801.8 1032.5 803.8 1033 804.4 1033.5 805 1034 805.7 1034.5 806.4 1035 807 1035.5 807 1036 806.9 1036.5 806.9 1037 806.9 1037.5 806.8 1038 806.8 1038.5 806.8 1039 806.7 1039.5 806.7 1040 806.7 1040.5 806.6 1041 806.6 1041.5 806.6 1042 806.5 1042.5 806.5 1043 806.5 1043.5 806.4 1044 806.4 1044.5 806.4 1045 806.3 1045.5 806.3 1046 806.3 1046.5 806.2 1047 806.2 1047.5 806.2 1048 806.1 1048.5 806.1 1049 806.1 1049.5 806 1050 806 1050.5 806 1051 806 1051.5 806 1052 806 1052.5 806 1053 806 1053.5 806 1054 806 1054.5 806 1055 806 1055.5 806 1056 806 1056.5 806 1057 806 1057.5 806 1058 806 1058.5 806 1059 806 1059.5 806 1060 806 1060.5 806 1061 806 1061.5 806 1062 806 1062.5 806 1063 806 1063.5 806 1064 806 1064.5 806 1065 806 1065.5 806 1066 806 1066.5 806 1067 806 1067.5 806 1068 806 1068.5 806 1069 806 1069.5 806 1070 806 1070.5 806 1071 806 1071.5 806 1072 806 1072.5 806 1073 806 1073.5 806 1074 806 1074.5 806 1075 806 1075.5 806 1076 806 1076.5 805.9 1077 805.9 1077.5 805.9 1078 805.9 1078.5 805.9 1079 805.8 1079.5 805.8 1080 805.8 1080.5 805.8 1081 805.8 1081.5 805.7 1082 805.7 1082.5 805.7 1083 805.7 1083.5 805.7 1084 805.6 1084.5 805.6 1085 805.6 1085.5 805.6 1086 805.6 1086.5 805.5 1087 805.5 1087.5 805.5 1088 805.5 1088.5 805.5 1089 805.4 1089.5 805.4 1090 805.4 1090.5 805.4 1091 805.4 1091.5 805.3 1092 805.3 1092.5 805.3 1093 805.3 1093.5 805.3 1094 805.2 1094.5 805.2 1095 805.2 1095.5 805.2 1096 805.2 1096.5 805.1 1097 805.1 1097.5 805.1 1098 805.1 1098.5 805.1 1099 805 1099.5 805 1100 805 1100.5 804.9 1101 804.8 1101.5 804.6 1102 804.5 1102.5 804.4 1103 804.3 1103.5 804.2 1104 804 1104.5 803.9 1105 803.8 1105.5 803.7 1106 803.6 1106.5 803.4 1107 803.3 1107.5 803.2 1108 803.1 1108.5 803 1109 802.8 1109.5 802.7 1110 802.6 1110.5 802.5 1111 802.4 1111.5 802.2 1112 802.1 1112.5 802 1113 801.8 1113.5 801.6 1114 801.4 1114.5 801.1 1115 800.9 1115.5 800.7 1116 800.5 1116.5 800.3 1117 800 1117.5 799.8 1118 799.6 1118.5 799.4 1119 799.2 1119.5 799 1120 798.8 1120.5 797.5 1121 796.2 1121.5 795 1122 793.8 1122.5 792.5 1123 789 1123.5 785.5 1124 782 1124.5 778.5 1125 775 1125.5 770.5 1126 761.5 1126.5 750.8 1127 739.1 1127.5 728.5 1128 722.2 1128.5 722.9 1129 730.3 1129.5 741.4 1130 753 1130.5 763.4 1131 772 1131.5 778.8 1132 781.9 1132.5 785 1133 786.5 1133.5 788 1134 789.5 1134.5 791 1135 792.5 1135.5 794 1136 795.5 1136.5 796.5 1137 796.9 1137.5 797.3 1138 797.8 1138.5 798.2 1139 798.6 1139.5 799.1 1140 799.5 1140.5 799.6 1141 799.7 1141.5 799.7 1142 799.8 1142.5 799.9 1143 800 1143.5 800.1 1144 800.1 1144.5 800.2 1145 800.3 1145.5 800.4 1146 800.5 1146.5 800.6 1147 800.7 1147.5 800.8 1148 800.9 1148.5 801 1149 801.2 1149.5 801.3 1150 801.4 1150.5 801.5 1151 801.6 1151.5 801.8 1152 801.9 1152.5 802 1153 802.2 1153.5 802.5 1154 802.7 1154.5 802.9 1155 803.2 1155.5 803.4 1156 803.6 1156.5 803.9 1157 804.1 1157.5 804.3 1158 804.6 1158.5 804.8 1159 805 1159.5 805.3 1160 805.5 1160.5 806.1 1161 806.7 1161.5 807.3 1162 807.9 1162.5 808.5 1163 805.7 1163.5 802.8 1164 800 1164.5 801.5 1165 803 1165.5 804.5 1166 804.5 1166.5 804.5 1167 804.5 1167.5 804.5 1168 804.5 1168.5 804.5 1169 804.5 1169.5 804.5 1170 804.5 1170.5 804.5 1171 804.5 1171.5 804.5 1172 804.5 1172.5 804.5 1173 804.5 1173.5 804.5 1174 804.5 1174.5 804.5 1175 804.5 1175.5 804.5 1176 804.5 1176.5 804.5 1177 804.5 1177.5 804.5 1178 804.5 1178.5 804.5 1179 804.5 1179.5 804.5 1180 806.2 1180.5 806.2 1181 806.2 1181.5 806.2 1182 806.1 1182.5 806.1 1183 806.1 1183.5 806.1 1184 806 1184.5 806 1185 806 1185.5 805.9 1186 805.9 1186.5 805.9 1187 805.9 1187.5 805.8 1188 805.8 1188.5 805.8 1189 805.7 1189.5 805.7 1190 805.7 1190.5 805.7 1191 805.6 1191.5 805.6 1192 805.6 1192.5 805.5 1193 805.5 1193.5 805.5 1194 805.5 1194.5 805.4 1195 805.4 1195.5 805.4 1196 805.4 1196.5 805.3 1197 805.3 1197.5 805.3 1198 805.2 1198.5 805.2 1199 805.2 1199.5 805.2 1200 805.1 1200.5 805.1 1201 805.1 1201.5 805 1202 805 1202.5 805 1203 805 1203.5 804.9 1204 804.9 1204.5 804.9 1205 804.9 1205.5 804.8 1206 804.8 1206.5 804.8 1207 804.7 1207.5 804.7 1208 804.7 1208.5 804.7 1209 804.6 1209.5 804.6 1210 804.6 1210.5 804.5 1211 804.5 1211.5 804.4 1212 804.3 1212.5 804.1 1213 803.9 1213.5 803.8 1214 803.6 1214.5 803.5 1215 803.3 1215.5 803.1 1216 803 1216.5 802.8 1217 802.7 1217.5 802.5 1218 802 1218.5 801.5 1219 801 1219.5 800.5 1220 800 1220.5 796.5 1221 793 1221.5 791.2 1222 791.2 1222.5 791.2 1223 791.2 1223.5 797.9 1224 804.5 1224.5 804.4 1225 804.3 1225.5 804.2 1226 804.1 1226.5 803.8 1227 803.4 1227.5 803.1 1228 802.7 1228.5 802.3 1229 802 1229.5 801.6 1230 801.2 1230.5 800.8 1231 800.5 1231.5 800.1 1232 799.7 1232.5 799.3 1233 799 1233.5 798.6 1234 798.2 1234.5 797.9 1235 797.5 1235.5 797.1 1236 796.7 1236.5 796.4 1237 796 1237.5 795.6 1238 795.2 1238.5 794.9 1239 794.5 1239.5 794.1 1240 793.8 1240.5 793.4 1241 793.1 1241.5 792.8 1242 792.4 1242.5 792.1 1243 791.8 1243.5 791.4 1244 791.1 1244.5 790.8 1245 790.5 1245.5 790.1 1246 789.8 1246.5 789.5 1247 789.1 1247.5 788.8 1248 788.5 1248.5 788.1 1249 787.8 1249.5 787.5 1250 787.1 1250.5 786.8 1251 786.5 1251.5 786.2 1252 785.8 1252.5 785.5 1253 783.8 1253.5 782 1254 780.3 1254.5 778.6 1255 776.8 1255.5 775.1 1256 773.4 1256.5 770.5 1257 766.5 1257.5 762.5 1258 758.5 1258.5 753.3 1259 744.8 1259.5 735 1260 723.7 1260.5 711.2 1261 698.1 1261.5 685.4 1262 674.9 1262.5 668.3 1263 667 1263.5 671.4 1264 680.5 1264.5 692.4 1265 705.5 1265.5 718.4 1266 730.2 1266.5 740.7 1267 749.7 1267.5 752.5 1268 757 1268.5 761.5 1269 766 1269.5 770.5 1270 775 1270.5 776.8 1271 778.7 1271.5 780.5 1272 782.3 1272.5 784.2 1273 786 1273.5 787.8 1274 789.2 1274.5 790.2 1275 791.2 1275.5 792.2 1276 793.2 1276.5 794.2 1277 795.2 1277.5 796.2 1278 795.9 1278.5 795.5 1279 795.2 1279.5 794.9 1280 794.5 1280.5 795.8 1281 797 1281.5 798.2 1282 799.5 1282.5 800 1283 800.5 1283.5 801 1284 801.5 1284.5 802 1285 802.5 1285.5 802.6 1286 802.7 1286.5 802.8 1287 802.9 1287.5 803 1288 803.1 1288.5 803.2 1289 803.3 1289.5 803.4 1290 803.5 1290.5 803.6 1291 803.7 1291.5 803.8 1292 803.9 1292.5 804 1293 804.1 1293.5 804.2 1294 804.3 1294.5 804.4 1295 804.5 1295.5 804.6 1296 804.7 1296.5 804.8 1297 804.9 1297.5 805 1298 805 1298.5 805.1 1299 805.1 1299.5 805.2 1300 805.2 1300.5 805.2 1301 805.3 1301.5 805.3 1302 805.4 1302.5 805.4 1303 805.4 1303.5 805.5 1304 805.5 1304.5 805.6 1305 805.6 1305.5 805.6 1306 805.7 1306.5 805.7 1307 805.8 1307.5 805.8 1308 805.8 1308.5 805.9 1309 805.9 1309.5 806 1310 806 1310.5 806 1311 806.1 1311.5 806.1 1312 806.2 1312.5 806.2 1313 806.2 1313.5 806.3 1314 806.3 1314.5 806.4 1315 806.4 1315.5 806.4 1316 806.5 1316.5 806.5 1317 806.6 1317.5 806.6 1318 806.6 1318.5 806.7 1319 806.7 1319.5 806.8 1320 806.8 1320.5 806.8 1321 806.9 1321.5 806.9 1322 807 1322.5 807 1323 807 1323.5 807 1324 807 1324.5 807 1325 807 1325.5 807 1326 807 1326.5 807 1327 807 1327.5 807 1328 805.2 1328.5 803.5 1329 801.8 1329.5 800 1330 800.3 1330.5 800.7 1331 801 1331.5 801.3 1332 801.7 1332.5 802 1333 801.9 1333.5 801.9 1334 801.8 1334.5 801.7 1335 801.6 1335.5 801.5 1336 801.5 1336.5 801.4 1337 801.3 1337.5 801.2 1338 799.9 1338.5 798.5 1339 797.1 1339.5 795.8 1340 794.4 1340.5 793 1341 793.2 1341.5 793.5 1342 793.8 1342.5 798.8 1343 803.8 1343.5 801.8 1344 799.8 1344.5 797.8 1345 795.8 1345.5 793.8 1346 792.6 1346.5 791.5 1347 790.3 1347.5 789.1 1348 788 1348.5 791.6 1349 795.2 1349.5 798.9 1350 802.5 1350.5 802.5 1351 802.5 1351.5 802.6 1352 802.6 1352.5 802.6 1353 802.6 1353.5 802.7 1354 802.7 1354.5 802.7 1355 802.8 1355.5 802.8 1356 802.8 1356.5 802.8 1357 802.9 1357.5 802.9 1358 802.9 1358.5 802.9 1359 803 1359.5 803 1360 803 1360.5 802.8 1361 802.6 1361.5 802.4 1362 802.1 1362.5 801.9 1363 801.7 1363.5 801.5 1364 801.3 1364.5 801.1 1365 800.9 1365.5 800.7 1366 800.5 1366.5 800.2 1367 800 1367.5 799.8 1368 799.6 1368.5 799.4 1369 799.2 1369.5 799 1370 798.8 1370.5 798.6 1371 798.4 1371.5 798.2 1372 798 1372.5 797.8 1373 797.6 1373.5 797.4 1374 797.2 1374.5 797.1 1375 796.9 1375.5 796.7 1376 796.5 1376.5 796.3 1377 796.1 1377.5 795.9 1378 795.8 1378.5 795.6 1379 795.4 1379.5 795.2 1380 795 1380.5 794.3 1381 793.7 1381.5 793 1382 792.3 1382.5 791.7 1383 791 1383.5 790.3 1384 789.7 1384.5 789 1385 788.3 1385.5 787.7 1386 787 1386.5 786.3 1387 785.7 1387.5 785 1388 783 1388.5 781 1389 778.4 1389.5 775.2 1390 771.6 1390.5 767.5 1391 762.8 1391.5 757.5 1392 751.3 1392.5 744.3 1393 736.3 1393.5 727.4 1394 717.5 1394.5 707.1 1395 696.4 1395.5 686.1 1396 677.1 1396.5 670.5 1397 667.2 1397.5 667.5 1398 671.6 1398.5 697 1399 712 1399.5 726 1400 716 1400.5 705 1401 700.5 1401.5 703 1402 712 1402.5 724 1403 734 1403.5 742 1404 750 1404.5 757 1405 762.5 1405.5 767 1406 771 1406.5 772.2 1407 772.6 1407.5 773 1408 773.4 1408.5 773.7 1409 774.1 1409.5 774.5 1410 774.9 1410.5 775.3 1411 775.7 1411.5 776 1412 776.4 1412.5 776.8 1413 777.2 1413.5 777.6 1414 778 1414.5 778.4 1415 778.8 1415.5 779.9 1416 781.1 1416.5 782.2 1417 783.4 1417.5 784.6 1418 785.8 1418.5 786.9 1419 787.7 1419.5 788.1 1420 788.4 1420.5 788.8 1421 789.2 1421.5 789.6 1422 789.9 1422.5 790.3 1423 790.7 1423.5 791.1 1424 791.2 1424.5 791 1425 790.9 1425.5 790.8 1426 790.6 1426.5 790.5 1427 790.3 1427.5 790.2 1428 790 1428.5 789.9 1429 789.8 1429.5 789.6 1430 789.5 1430.5 789.3 1431 789.2 1431.5 789 1432 788.9 1432.5 788.8 1433 789 1433.5 789.2 1434 789.5 1434.5 789.8 1435 790 1435.5 790.2 1436 790.5 1436.5 790.8 1437 791 1437.5 791.2 1438 791.5 1438.5 791.8 1439 792 1439.5 792.2 1440 792.5 1440.5 792 1441 791.5 1441.5 791 1442 790.5 1442.5 790 1443 791.2 1443.5 792.5 1444 793.8 1444.5 795 1445 796.2 1445.5 794.2 1446 792.1 1446.5 790.1 1447 788 1447.5 793.2 1448 798.4 1448.5 803.6 1449 804.8 1449.5 801.8 1450 798.8 1450.5 795.8 1451 792.8 1451.5 791.2 1452 791 1452.5 790.8 1453 790.7 1453.5 790.5 1454 790.3 1454.5 790.2 1455 790 1455.5 790.9 1456 791.8 1456.5 792.6 1457 793.5 1457.5 794.4 1458 795.2 1458.5 796.1 1459 797 1459.5 797.9 1460 798.8 1460.5 799.2 1461 799.8 1461.5 800.2 1462 800.8 1462.5 801.2 1463 801.8 1463.5 802.2 1464 802.8 1464.5 803.2 1465 803.8 1465.5 804.2 1466 804.8 1466.5 805.2 1467 805.8 1467.5 806.2 1468 803.6 1468.5 801 1469 798.3 1469.5 795.6 1470 793 1470.5 793.6 1471 794.1 1471.5 794.7 1472 795.2 1472.5 795.8 1473 796.4 1473.5 796.9 1474 797.5 1474.5 798 1475 798.6 1475.5 799.2 1476 799.7 1476.5 800 1477 800.1 1477.5 800.2 1478 800.3 1478.5 800.4 1479 800.5 1479.5 800.6 1480 800.7 1480.5 800.8 1481 800.8 1481.5 800.9 1482 801 1482.5 801.1 1483 801.2 1483.5 801.3 1484 801.4 1484.5 801.5 1485 801.6 1485.5 801.6 1486 801.7 1486.5 801.8 1487 801.9 1487.5 802 1488 802 1488.5 801.9 1489 801.9 1489.5 801.8 1490 801.8 1490.5 801.7 1491 801.7 1491.5 801.7 1492 801.6 1492.5 801.6 1493 801.5 1493.5 801.5 1494 801.4 1494.5 801.4 1495 801.4 1495.5 801.3 1496 801.3 1496.5 800.8 1497 799.8 1497.5 798.8 1498 797.8 1498.5 796.8 1499 795.8 1499.5 794.8 1500 793.8 1500.5 793 1501 792.1 1501.5 791.4 1502 790.5 1502.5 789.8 1503 789 1503.5 788.1 1504 787.4 1504.5 786.5 1505 785.8 1505.5 785 1506 784.1 1506.5 784.2 1507 785.2 1507.5 786.2 1508 787.2 1508.5 788.2 1509 789.2 1509.5 790.2 1510 791.2 1510.5 791.6 1511 792 1511.5 792.5 1512 792.9 1512.5 793.2 1513 793.6 1513.5 794 1514 794.5 1514.5 794.9 1515 795.2 1515.5 795.6 1516 796 1516.5 796.5 1517 797 1517.5 797.5 1518 798 1518.5 798.5 1519 799 1519.5 799.5 1520 800 1520.5 799.5 1521 799.1 1521.5 798.6 1522 798.2 1522.5 797.8 1523 797.3 1523.5 796.9 1524 796.4 1524.5 796 1525 795.5 1525.5 795.6 1526 795.7 1526.5 795.8 1527 795.9 1527.5 796 1528 796.1 1528.5 796.2 1529 797 1529.5 798.5 1530 800 1530.5 801.5 1531 803 1531.5 801.1 1532 795.7 1532.5 790.4 1533 785 1533.5 783 1534 767 1534.5 729.9 1535 696.4 1535.5 670.4 1536 641.9 1536.5 616.2 1537 601.8 1537.5 604.9 1538 624.1 1538.5 651.5 1539 679.6 1539.5 704.2 1540 724.2 1540.5 739.9 1541 752.1 1541.5 754.5 1542 758.5 1542.5 762.5 1543 766.5 1543.5 770.5 1544 773.1 1544.5 774.2 1545 775.4 1545.5 776.6 1546 777.8 1546.5 778.9 1547 780.1 1547.5 781.2 1548 781.5 1548.5 781.8 1549 782 1549.5 782.2 1550 782.5 1550.5 784.8 1551 787 1551.5 789.2 1552 791.5 1552.5 793.8 1553 794.8 1553.5 795.8 1554 796.8 1554.5 797.8 1555 798.8 1555.5 799.1 1556 799.4 1556.5 799.8 1557 800.1 1557.5 800.4 1558 800.8 1558.5 801.1 1559 800.9 1559.5 800.1 1560 799.4 1560.5 798.6 1561 797.9 1561.5 797.9 1562 798.6 1562.5 799.4 1563 800.1 1563.5 800.9 1564 801.2 1564.5 801 1565 800.8 1565.5 800.7 1566 800.5 1566.5 800.3 1567 800.2 1567.5 800 1568 801.4 1568.5 802.8 1569 804.2 1569.5 805.6 1570 807 1570.5 806.9 1571 806.9 1571.5 806.8 1572 806.7 1572.5 806.6 1573 806.5 1573.5 806.5 1574 806.4 1574.5 806.3 1575 806.2 1575.5 806.2 1576 806.1 1576.5 806 1577 806 1577.5 805.9 1578 805.8 1578.5 805.7 1579 805.6 1579.5 805.6 1580 805.5 1580.5 805.3 1581 805 1581.5 804.8 1582 804.5 1582.5 804.3 1583 804.1 1583.5 803.8 1584 803.6 1584.5 803.3 1585 803.1 1585.5 802.9 1586 802.6 1586.5 802.6 1587 802.9 1587.5 803.1 1588 803.3 1588.5 803.6 1589 803.8 1589.5 804.1 1590 804.3 1590.5 804.5 1591 804.8 1591.5 805 1592 805.3 1592.5 805.5 1593 805.6 1593.5 805.7 1594 805.9 1594.5 806 1595 806.1 1595.5 806.2 1596 806.3 1596.5 806.5 1597 806.6 1597.5 806.7 1598 806.8 1598.5 806.9 1599 807 1599.5 807 1600 807 1600.5 807 1601 807 1601.5 807 1602 807.1 1602.5 807.1 1603 807.1 1603.5 807.1 1604 807.1 1604.5 807.1 1605 807.1 1605.5 807.1 1606 807.1 1606.5 807.1 1607 807.1 1607.5 807.1 1608 807.1 1608.5 807.2 1609 807.2 1609.5 807.2 1610 807.2 1610.5 807.2 1611 807.2 1611.5 807.2 1612 807.2 1612.5 807.2 1613 807.2 1613.5 807.2 1614 807.2 1614.5 807.3 1615 807.3 1615.5 807.3 1616 807.3 1616.5 807.3 1617 807.3 1617.5 807.3 1618 807.3 1618.5 807.3 1619 807.3 1619.5 807.3 1620 807.3 1620.5 807.3 1621 807.4 1621.5 807.4 1622 807.4 1622.5 807.4 1623 807.4 1623.5 807.4 1624 807.4 1624.5 807.4 1625 807.4 1625.5 807.4 1626 807.4 1626.5 807.4 1627 807.5 1627.5 807.5 1628 807.5 1628.5 807.5 1629 807.5 1629.5 807.5 1630 807.5 1630.5 807.5 1631 807.5 1631.5 807.5 1632 807.5 1632.5 807.5 1633 807.5 1633.5 807.4 1634 807.4 1634.5 807.4 1635 807.4 1635.5 807.4 1636 807.4 1636.5 807.4 1637 807.4 1637.5 807.4 1638 807.4 1638.5 807.4 1639 807.4 1639.5 807.4 1640 807.3 1640.5 807.3 1641 807.3 1641.5 807.3 1642 807.3 1642.5 807.3 1643 807.3 1643.5 807.3 1644 807.3 1644.5 807.3 1645 807.3 1645.5 807.3 1646 807.3 1646.5 807.2 1647 807.2 1647.5 807.2 1648 807.2 1648.5 807.2 1649 807.2 1649.5 807.2 1650 807.2 1650.5 807.2 1651 807.2 1651.5 807.2 1652 807.2 1652.5 807.2 1653 807.1 1653.5 807.1 1654 807.1 1654.5 807.1 1655 807.1 1655.5 807.1 1656 807.1 1656.5 807.1 1657 807.1 1657.5 807.1 1658 807.1 1658.5 807.1 1659 807.1 1659.5 807 1660 807 1660.5 807.0" stroke="#0000FF" stroke-width="1" fill="none" stroke-linejoin="round" transform="translate(0 0.5)"/><rect x="316.5" y="589.5" width="1344" height="231" fill="none" stroke="#000"/><path d="M1499.5 590V821" stroke="#FF8000" stroke-width="1"/><path d="M1558.5 590V821" stroke="#FFFF00" stroke-width="1"/><path d="M1559.5 590V821" stroke="#FF8000" stroke-width="1"/><path d="M1500 589.5H1559M1500 820.5H1559" stroke="#0000FF" stroke-width="1"/><path d="M386 742V747" stroke="#FF8000"/><path d="M380 747.5h12l-6 8z" fill="#fff" stroke="#FF8000"/><circle cx="386" cy="733" r="9.5" fill="#fff" stroke="#FF8000"/><text x="386" y="737.5" text-anchor="middle" fill="#000" class="num">1</text><path d="M486 750V755" stroke="#FF8000"/><path d="M480 755.5h12l-6 8z" fill="#fff" stroke="#FF8000"/><circle cx="486" cy="741" r="9.5" fill="#fff" stroke="#FF8000"/><text x="486" y="745.5" text-anchor="middle" fill="#000" class="num">2</text><path d="M602 782V787" stroke="#FF8000"/><path d="M596 787.5h12l-6 8z" fill="#fff" stroke="#FF8000"/><circle cx="602" cy="773" r="9.5" fill="#fff" stroke="#FF8000"/><text x="602" y="777.5" text-anchor="middle" fill="#000" class="num">3</text><path d="M728 739V744" stroke="#FF8000"/><path d="M722 744.5h12l-6 8z" fill="#fff" stroke="#FF8000"/><circle cx="728" cy="730" r="9.5" fill="#fff" stroke="#FF8000"/><text x="728" y="734.5" text-anchor="middle" fill="#000" class="num">4</text><path d="M860 748V753" stroke="#FF8000"/><path d="M854 753.5h12l-6 8z" fill="#fff" stroke="#FF8000"/><circle cx="860" cy="739" r="9.5" fill="#fff" stroke="#FF8000"/><text x="860" y="743.5" text-anchor="middle" fill="#000" class="num">5</text><path d="M994 695V700" stroke="#FF8000"/><path d="M988 700.5h12l-6 8z" fill="#fff" stroke="#FF8000"/><circle cx="994" cy="686" r="9.5" fill="#fff" stroke="#FF8000"/><text x="994" y="690.5" text-anchor="middle" fill="#000" class="num">6</text><path d="M1128 706V711" stroke="#FF8000"/><path d="M1122 711.5h12l-6 8z" fill="#fff" stroke="#FF8000"/><circle cx="1128" cy="697" r="9.5" fill="#fff" stroke="#FF8000"/><text x="1128" y="701.5" text-anchor="middle" fill="#000" class="num">7</text><path d="M1263 651V656" stroke="#FF8000"/><path d="M1257 656.5h12l-6 8z" fill="#fff" stroke="#FF8000"/><circle cx="1263" cy="642" r="9.5" fill="#fff" stroke="#FF8000"/><text x="1263" y="646.5" text-anchor="middle" fill="#000" class="num">8</text><path d="M1397 652V657" stroke="#FF8000"/><path d="M1391 657.5h12l-6 8z" fill="#fff" stroke="#FF8000"/><circle cx="1397" cy="643" r="9.5" fill="#fff" stroke="#FF8000"/><text x="1397" y="647.5" text-anchor="middle" fill="#000" class="num">9</text><path d="M1531 594L1543.5 606.5M1543.5 594L1531 606.5" stroke="#FF8000" stroke-width="1"/><circle cx="1537" cy="600" r="2.8" fill="#FF8000" shape-rendering="auto"/><path d="M1541 600.5L1547.5 594.5V606.5Z" fill="#fff" stroke="#FF8000"/><path d="M1548 600.5H1552" stroke="#FF8000"/><circle cx="1561" cy="600" r="9.5" fill="#fff" stroke="#FF8000"/><text x="1561" y="604.8" text-anchor="middle" fill="#000" class="num">10</text><path d="M313.5 589V821" stroke="#000" stroke-width="1"/><path d="M306 627.5H313M306 664.5H313M306 700.5H313M306 736.5H313M306 773.5H313M306 809.5H313" stroke="#000"/><path d="M309.5 609.5H313M309.5 645.5H313M309.5 682.5H313M309.5 718.5H313M309.5 754.5H313M309.5 791.5H313" stroke="#000"/><text x="305" y="631.85" text-anchor="end" fill="#000" class="num">250</text><text x="305" y="668.18" text-anchor="end" fill="#000" class="num">200</text><text x="305" y="704.51" text-anchor="end" fill="#000" class="num">150</text><text x="305" y="740.84" text-anchor="end" fill="#000" class="num">100</text><text x="305" y="777.17" text-anchor="end" fill="#000" class="num">50</text><text x="305" y="813.5" text-anchor="end" fill="#000" class="num">0</text><path d="M316 824.5H1661" stroke="#000" stroke-width="1"/><path d="M316.5 824V831M385.5 824V831M454.5 824V831M523.5 824V831M591.5 824V831M660.5 824V831M729.5 824V831M798.5 824V831M867.5 824V831M936.5 824V831M1005.5 824V831M1074.5 824V831M1142.5 824V831M1211.5 824V831M1280.5 824V831M1349.5 824V831M1418.5 824V831M1487.5 824V831M1556.5 824V831M1624.5 824V831" stroke="#000"/><path d="M330.5 824V828M344.5 824V828M357.5 824V828M371.5 824V828M399.5 824V828M412.5 824V828M426.5 824V828M440.5 824V828M468.5 824V828M481.5 824V828M495.5 824V828M509.5 824V828M536.5 824V828M550.5 824V828M564.5 824V828M578.5 824V828M605.5 824V828M619.5 824V828M633.5 824V828M647.5 824V828M674.5 824V828M688.5 824V828M702.5 824V828M715.5 824V828M743.5 824V828M757.5 824V828M771.5 824V828M784.5 824V828M812.5 824V828M826.5 824V828M839.5 824V828M853.5 824V828M881.5 824V828M894.5 824V828M908.5 824V828M922.5 824V828M950.5 824V828M963.5 824V828M977.5 824V828M991.5 824V828M1018.5 824V828M1032.5 824V828M1046.5 824V828M1060.5 824V828M1087.5 824V828M1101.5 824V828M1115.5 824V828M1129.5 824V828M1156.5 824V828M1170.5 824V828M1184.5 824V828M1197.5 824V828M1225.5 824V828M1239.5 824V828M1253.5 824V828M1266.5 824V828M1294.5 824V828M1308.5 824V828M1321.5 824V828M1335.5 824V828M1363.5 824V828M1377.5 824V828M1390.5 824V828M1404.5 824V828M1432.5 824V828M1445.5 824V828M1459.5 824V828M1473.5 824V828M1500.5 824V828M1514.5 824V828M1528.5 824V828M1542.5 824V828M1569.5 824V828M1583.5 824V828M1597.5 824V828M1611.5 824V828M1638.5 824V828M1652.5 824V828" stroke="#000"/><text x="316.5" y="843" text-anchor="middle" fill="#000" class="num">0</text><text x="385.364" y="843" text-anchor="middle" fill="#000" class="num">1000</text><text x="454.228" y="843" text-anchor="middle" fill="#000" class="num">2000</text><text x="523.092" y="843" text-anchor="middle" fill="#000" class="num">3000</text><text x="591.956" y="843" text-anchor="middle" fill="#000" class="num">4000</text><text x="660.82" y="843" text-anchor="middle" fill="#000" class="num">5000</text><text x="729.684" y="843" text-anchor="middle" fill="#000" class="num">6000</text><text x="798.548" y="843" text-anchor="middle" fill="#000" class="num">7000</text><text x="867.412" y="843" text-anchor="middle" fill="#000" class="num">8000</text><text x="936.276" y="843" text-anchor="middle" fill="#000" class="num">9000</text><text x="1005.14" y="843" text-anchor="middle" fill="#000" class="num">10000</text><text x="1074" y="843" text-anchor="middle" fill="#000" class="num">11000</text><text x="1142.87" y="843" text-anchor="middle" fill="#000" class="num">12000</text><text x="1211.73" y="843" text-anchor="middle" fill="#000" class="num">13000</text><text x="1280.6" y="843" text-anchor="middle" fill="#000" class="num">14000</text><text x="1349.46" y="843" text-anchor="middle" fill="#000" class="num">15000</text><text x="1418.32" y="843" text-anchor="middle" fill="#000" class="num">16000</text><text x="1487.19" y="843" text-anchor="middle" fill="#000" class="num">17000</text><text x="1556.05" y="843" text-anchor="middle" fill="#000" class="num">18000</text><text x="1624.92" y="843" text-anchor="middle" fill="#000" class="num">19000</text>
<text x="1657.5" y="584.2" text-anchor="end" fill="#000" style="letter-spacing:0.29px">[1.77330e+004,2.86655e+002]</text>
<circle cx="248" cy="229.5" r="4.4" fill="#787878" stroke="#303030" shape-rendering="auto"/>
<circle cx="248" cy="556" r="4.4" fill="#00FF00" stroke="#102810" shape-rendering="auto"/>
</svg>
<div class="l" style="left:579px;top:17px;">时域波形 - 通道1</div>
<div class="l" style="left:1309px;top:17px;">时域波形 - 通道2</div>
<div class="l" style="left:316px;top:33px;">幅值<span class="ls">(N)</span></div>
<div class="l" style="left:1046px;top:33px;">幅值<span class="ls2">(m/s^2)</span></div>
<div class="l" style="left:976px;top:234px;">相干</div>
<div class="l" style="left:316px;top:250px;">相干</div>
<div class="l" style="left:964px;top:523.5px;">频率<span class="ls">(Hz)</span></div>
<div class="l" style="left:976px;top:560px;">幅值</div>
<div class="l" style="left:316px;top:577px;">幅值<span class="ls2">((m/s^2)/(N))</span></div>
<div class="l" style="left:964px;top:850.5px;">频率<span class="ls">(Hz)</span></div>
</div>
<div class="abs" style="left:1696px;top:0px;width:3px;height:871px;background:#D4D0C8"></div>
<div class="abs" style="left:1699px;top:0px;width:2px;height:871px;background:#808080"></div>
<div id="rp">
<div style="left:0px;top:0px;width:216px;height:2px;background:#808080"></div>
<div class="l blue" style="left:67px;top:9px;font-size:20px;line-height:20px;height:20px;letter-spacing:0.6px;font-family:'Liberation Serif','Noto Serif CJK SC',serif;">传递函数</div>
<div style="left:4px;top:35px;width:205px;height:1px;background:#000"></div>
<div style="left:4px;top:64px;width:64px;height:1px;background:#0000FF"></div>
<div style="left:148px;top:64px;width:64px;height:1px;background:#0000FF"></div>
<div class="l blue" style="left:72px;top:59px;">频域分析参数</div>
<div class="l" style="left:4px;top:77px;">采样频率</div>
<div class="l ls blue" style="left:119px;top:77px;">50K Hz</div>
<div class="l" style="left:4px;top:95px;">分析方法</div>
<div class="l blue" style="left:119px;top:95px;">相干 - 幅值</div>
<div class="l" style="left:4px;top:113px;">FFT块长</div>
<div class="l ls blue" style="left:119px;top:113px;">65536</div>
<div class="l" style="left:4px;top:131px;">谱线数:</div>
<div class="l ls blue" style="left:119px;top:131px;">25600</div>
<div class="l" style="left:4px;top:149px;">重叠率:</div>
<div class="l ls blue" style="left:119px;top:149px;">0</div>
<div class="l" style="left:4px;top:167px;">频率分辨率</div>
<div class="l ls blue" style="left:119px;top:167px;">0.7629 Hz</div>
<div class="l" style="left:4px;top:185px;">输入窗函数</div>
<div class="l blue" style="left:119px;top:185px;">矩形窗</div>
<div class="l dis2" style="left:4px;top:203px;">输入窗宽</div>
<div class="l ls dis2" style="left:119px;top:203px;">0</div>
<div class="l" style="left:4px;top:221px;">输出窗函数</div>
<div class="l blue" style="left:119px;top:221px;">矩形窗</div>
<div class="l dis2" style="left:4px;top:239px;">输出窗宽</div>
<div class="l ls dis2" style="left:119px;top:239px;">0</div>
<div class="l" style="left:4px;top:257px;">平均方法:</div>
<div class="l blue" style="left:119px;top:257px;">无平均</div>
<div class="l" style="left:4px;top:275px;">平均次数:</div>
<div class="l dis2" style="left:119px;top:275px;">无平均</div>
<div class="l dis2" style="left:4px;top:293px;">已平均次数</div>
<div class="l ls dis2" style="left:119px;top:293px;">3</div>
<div class="l" style="left:4px;top:311px;">光标读数</div>
<div class="l ls red" style="left:119px;top:311px;">X=17733.002 Hz</div>
<div class="l ls red" style="left:119px;top:329px;">Y=286.655 (m/s^2)</div>
<div style="left:4px;top:370px;width:64px;height:1px;background:#0000FF"></div>
<div style="left:148px;top:370px;width:64px;height:1px;background:#0000FF"></div>
<div class="l blue" style="left:72px;top:365px;">光标收数列表</div>
<table id="tb"><tr><td>序号</td><td>频率</td><td>幅频</td></tr>
<tr><td>1</td><td class="blue">1010.895</td><td class="blue">71.342</td></tr>
<tr><td>2</td><td class="blue">2463.531</td><td class="blue">60.441</td></tr>
<tr><td>3</td><td class="blue">4150.391</td><td class="blue">16.058</td></tr>
<tr><td>4</td><td class="blue">5983.734</td><td class="blue">74.87</td></tr>
<tr><td>5</td><td class="blue">7901.001</td><td class="blue">63.078</td></tr>
<tr><td>6</td><td class="blue">9841.919</td><td class="blue">136.404</td></tr>
<tr><td>7</td><td class="blue">11794.281</td><td class="blue">120.282</td></tr>
<tr><td>8</td><td class="blue">13749.695</td><td class="blue">195.736</td></tr>
<tr><td>9</td><td class="blue">15700.531</td><td class="blue">195.657</td></tr>
<tr><td>10</td><td class="blue">17733.002</td><td class="blue">286.655</td></tr>
</table>
</div>
<div id="pop">
<div id="ptb"></div>
<svg class="abs" style="left:8px;top:6px" width="16" height="16" viewBox="0 0 16 16"><circle cx="8" cy="8" r="6.2" fill="none" stroke="#fff" stroke-width="2" stroke-dasharray="10 3" stroke-linecap="butt" transform="rotate(-30 8 8)"/><path d="M5 10.5 L8 5 L11 10.5 Z" fill="#fff"/><circle cx="8" cy="9" r="1.3" fill="#4FB1B1"/></svg>
<div class="l" style="left:27px;top:7px;font-size:13px;line-height:13px;height:13px;">腾讯大苏网新闻</div>
<svg class="abs" style="left:283px;top:9.5px" width="11" height="11" viewBox="0 0 11 11"><path d="M1.5 1.5L9.5 9.5M9.5 1.5L1.5 9.5" stroke="#fff" stroke-width="1.8"/></svg>
<svg class="abs" style="left:8px;top:34px" width="100" height="107" viewBox="0 0 100 107"><defs><filter id="bl" x="-10%" y="-10%" width="120%" height="120%"><feGaussianBlur stdDeviation="1.1"/></filter><clipPath id="pc"><rect width="100" height="107"/></clipPath></defs><rect width="100" height="107" fill="#17100E"/><g filter="url(#bl)" clip-path="url(#pc)"><rect x="0" y="2" width="26" height="4" fill="#4A3A30"/><path d="M52 6L96 1V6L54 11Z" fill="#5A4638"/><rect x="1" y="8" width="23" height="55" fill="#8C866C"/><rect x="4" y="9" width="3" height="52" fill="#D8D4BC"/><rect x="12" y="9" width="3" height="52" fill="#CFCAB0"/><rect x="19" y="9" width="3" height="30" fill="#C8C4AA"/><rect x="18" y="30" width="7" height="36" fill="#E6DEBE"/><rect x="26" y="12" width="27" height="18" rx="3" fill="#EFE6C6"/><rect x="31" y="15" width="17" height="14" fill="#FFFFFF"/><ellipse cx="42" cy="38" rx="20" ry="12" fill="#FFFFFF"/><ellipse cx="58" cy="25" rx="5" ry="8" fill="#FFFFFF"/><ellipse cx="52" cy="36" rx="9" ry="8" fill="#F4F4EC"/><rect x="24" y="27" width="15" height="3" fill="#1A1210" transform="rotate(12 30 28)"/><rect x="25" y="46" width="12" height="23" fill="#18220F"/><rect x="41" y="43" width="16" height="28" fill="#1A2614"/><rect x="37" y="55" width="5" height="8" fill="#D8D8C8"/><rect x="58" y="30" width="8" height="45" fill="#1A100E"/><ellipse cx="82" cy="42" rx="13" ry="36" fill="#100A0A"/><rect x="72" y="30" width="4" height="45" fill="#B08870" transform="rotate(4 74 50)"/><rect x="88" y="34" width="12" height="46" fill="#741A1C"/><rect x="84" y="66" width="9" height="3" fill="#E8E0E0"/><ellipse cx="8" cy="42" rx="9" ry="7" fill="#0C0808"/><ellipse cx="11" cy="50" rx="6" ry="8" fill="#9A7050"/><rect x="12" y="44" width="4" height="9" fill="#C09878"/><path d="M0 58L14 57L32 72V86H0Z" fill="#0E0C0C"/><rect x="30" y="72" width="22" height="3" fill="#B8C4C0"/><rect x="52" y="72" width="9" height="12" fill="#7EA8A0"/><ellipse cx="62" cy="78" rx="4" ry="6" fill="#C8B090"/><rect x="6" y="78" width="22" height="7" fill="#2F9A66"/><rect x="8" y="79" width="18" height="2" fill="#A8E0C8"/><rect x="7" y="85" width="16" height="6" fill="#C4D4CC"/><path d="M24 82H50L54 88L30 92Z" fill="#080808"/><rect x="0" y="90" width="62" height="4" fill="#6E7E7C"/><rect x="0" y="94" width="62" height="13" fill="#0C0C0C"/><rect x="62" y="80" width="38" height="27" fill="#120C0A"/></g></svg>
<div class="l" style="left:114.5px;top:33px;font-size:16px;line-height:16px;height:16px;">非诚男疑遭追偿千万</div>
<div class="l pg" style="left:115px;top:60px;">富二代牵手“非诚”女神后，疑遭前</div>
<div class="l pg" style="left:115px;top:80px;">女友追偿一千万，其家族曾列内地</div>
<div class="l pg" style="left:115px;top:100px;">富豪榜第<span style="font-size:11px">75</span>位。</div>
</div>
</body></html>
